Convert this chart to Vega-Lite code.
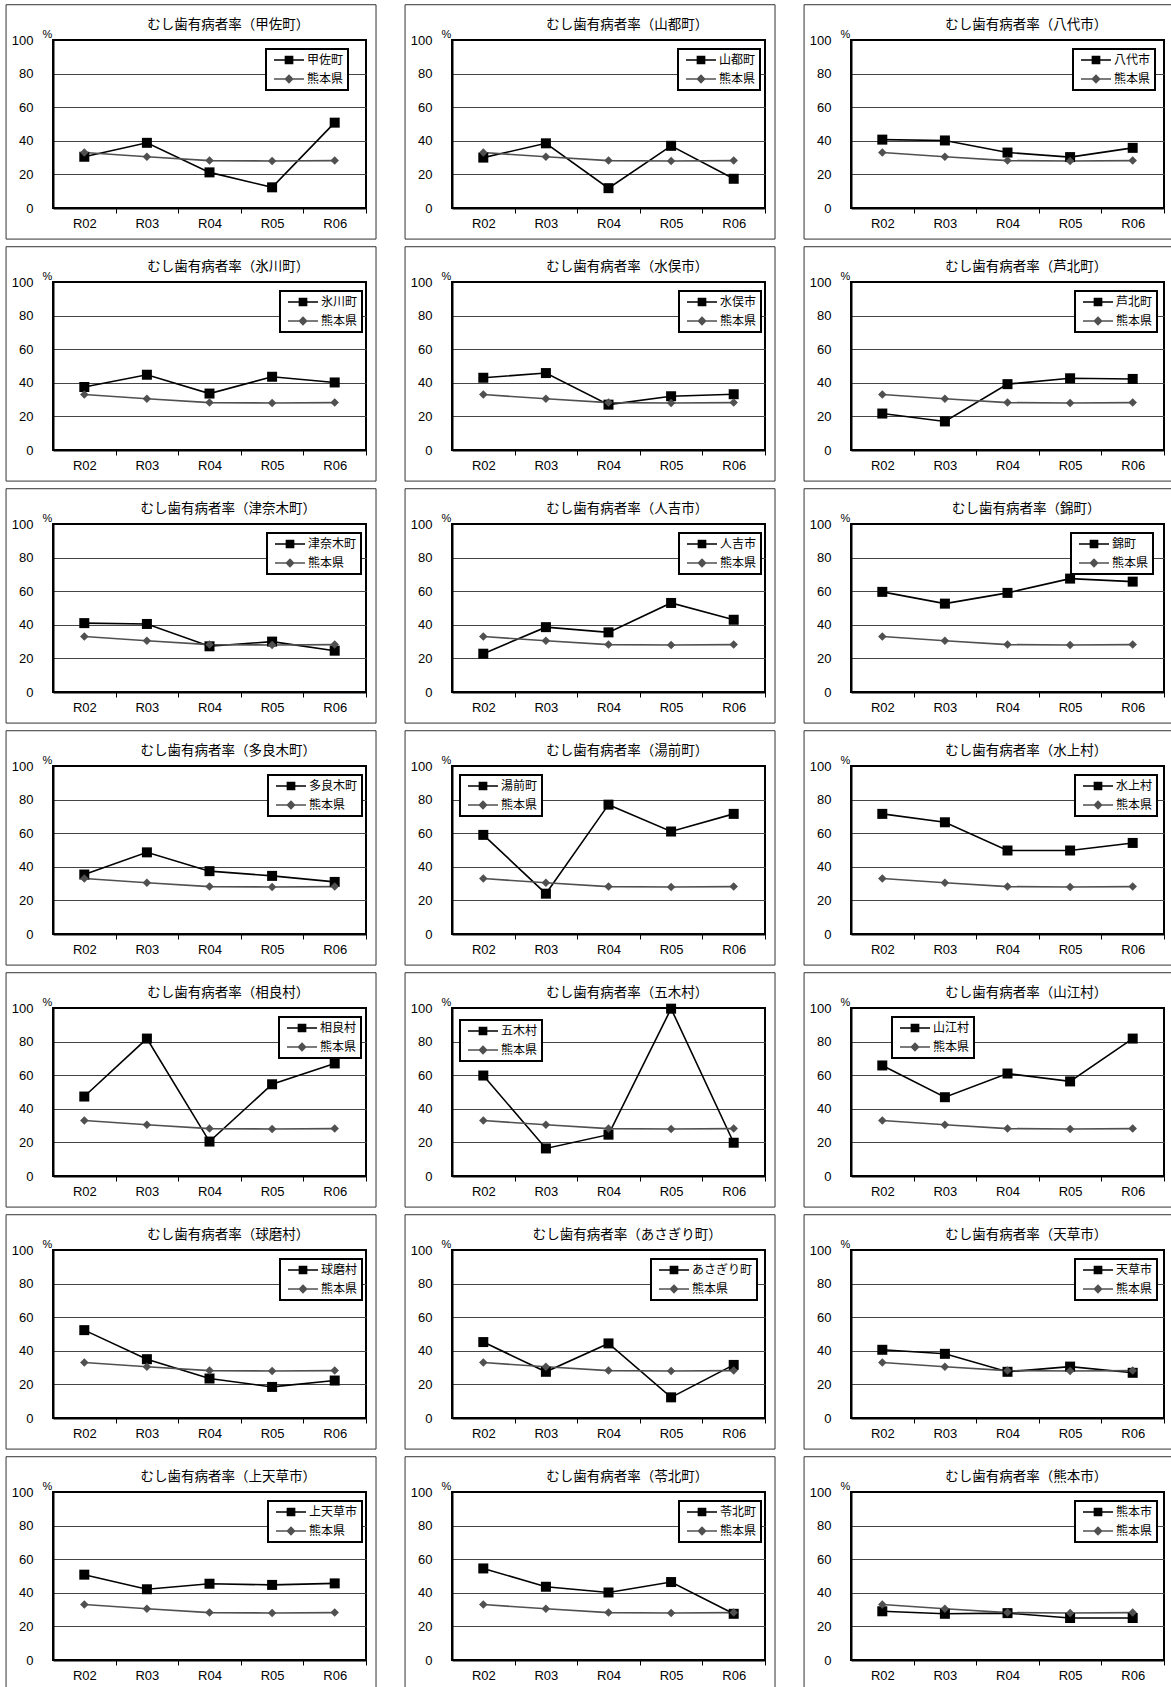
{
"$schema": "https://vega.github.io/schema/vega-lite/v6.json",
"background": "white",
"padding": {"left": 4, "top": 3, "right": 0, "bottom": 0},
"datasets": {"rates": [
{"area":"熊本県","year":2,"rate":33},{"area":"熊本県","year":3,"rate":30.5},{"area":"熊本県","year":4,"rate":28.2},{"area":"熊本県","year":5,"rate":28},{"area":"熊本県","year":6,"rate":28.2},
{"area":"甲佐町","year":2,"rate":30.5},{"area":"甲佐町","year":3,"rate":38.8},{"area":"甲佐町","year":4,"rate":21.2},{"area":"甲佐町","year":5,"rate":12.3},{"area":"甲佐町","year":6,"rate":50.8},
{"area":"山都町","year":2,"rate":30},{"area":"山都町","year":3,"rate":38.5},{"area":"山都町","year":4,"rate":11.8},{"area":"山都町","year":5,"rate":37},{"area":"山都町","year":6,"rate":17.4},
{"area":"八代市","year":2,"rate":40.7},{"area":"八代市","year":3,"rate":40.2},{"area":"八代市","year":4,"rate":33},{"area":"八代市","year":5,"rate":30.3},{"area":"八代市","year":6,"rate":35.8},
{"area":"氷川町","year":2,"rate":37.5},{"area":"氷川町","year":3,"rate":44.8},{"area":"氷川町","year":4,"rate":33.6},{"area":"氷川町","year":5,"rate":43.6},{"area":"氷川町","year":6,"rate":40.2},
{"area":"水俣市","year":2,"rate":43},{"area":"水俣市","year":3,"rate":45.8},{"area":"水俣市","year":4,"rate":27},{"area":"水俣市","year":5,"rate":32},{"area":"水俣市","year":6,"rate":33.2},
{"area":"芦北町","year":2,"rate":21.7},{"area":"芦北町","year":3,"rate":17},{"area":"芦北町","year":4,"rate":39.2},{"area":"芦北町","year":5,"rate":42.7},{"area":"芦北町","year":6,"rate":42.3},
{"area":"津奈木町","year":2,"rate":41},{"area":"津奈木町","year":3,"rate":40.5},{"area":"津奈木町","year":4,"rate":27.2},{"area":"津奈木町","year":5,"rate":30},{"area":"津奈木町","year":6,"rate":24.6},
{"area":"人吉市","year":2,"rate":22.8},{"area":"人吉市","year":3,"rate":38.6},{"area":"人吉市","year":4,"rate":35.5},{"area":"人吉市","year":5,"rate":53},{"area":"人吉市","year":6,"rate":43},
{"area":"錦町","year":2,"rate":59.6},{"area":"錦町","year":3,"rate":52.6},{"area":"錦町","year":4,"rate":59},{"area":"錦町","year":5,"rate":67.5},{"area":"錦町","year":6,"rate":65.7},
{"area":"多良木町","year":2,"rate":35.4},{"area":"多良木町","year":3,"rate":48.6},{"area":"多良木町","year":4,"rate":37.4},{"area":"多良木町","year":5,"rate":34.6},{"area":"多良木町","year":6,"rate":31},
{"area":"湯前町","year":2,"rate":59},{"area":"湯前町","year":3,"rate":24},{"area":"湯前町","year":4,"rate":77},{"area":"湯前町","year":5,"rate":61},{"area":"湯前町","year":6,"rate":71.5},
{"area":"水上村","year":2,"rate":71.5},{"area":"水上村","year":3,"rate":66.5},{"area":"水上村","year":4,"rate":49.7},{"area":"水上村","year":5,"rate":49.7},{"area":"水上村","year":6,"rate":54.2},
{"area":"相良村","year":2,"rate":47.3},{"area":"相良村","year":3,"rate":81.8},{"area":"相良村","year":4,"rate":20.5},{"area":"相良村","year":5,"rate":54.6},{"area":"相良村","year":6,"rate":67},
{"area":"五木村","year":2,"rate":59.8},{"area":"五木村","year":3,"rate":16.4},{"area":"五木村","year":4,"rate":24.6},{"area":"五木村","year":5,"rate":99.6},{"area":"五木村","year":6,"rate":19.8},
{"area":"山江村","year":2,"rate":65.8},{"area":"山江村","year":3,"rate":46.9},{"area":"山江村","year":4,"rate":61},{"area":"山江村","year":5,"rate":56.3},{"area":"山江村","year":6,"rate":81.8},
{"area":"球磨村","year":2,"rate":52.3},{"area":"球磨村","year":3,"rate":35},{"area":"球磨村","year":4,"rate":23.5},{"area":"球磨村","year":5,"rate":18.5},{"area":"球磨村","year":6,"rate":22.3},
{"area":"あさぎり町","year":2,"rate":45.2},{"area":"あさぎり町","year":3,"rate":27.5},{"area":"あさぎり町","year":4,"rate":44.4},{"area":"あさぎり町","year":5,"rate":12.3},{"area":"あさぎり町","year":6,"rate":31.6},
{"area":"天草市","year":2,"rate":40.6},{"area":"天草市","year":3,"rate":38.2},{"area":"天草市","year":4,"rate":27.5},{"area":"天草市","year":5,"rate":30.6},{"area":"天草市","year":6,"rate":26.9},
{"area":"上天草市","year":2,"rate":50.8},{"area":"上天草市","year":3,"rate":42.1},{"area":"上天草市","year":4,"rate":45.4},{"area":"上天草市","year":5,"rate":44.7},{"area":"上天草市","year":6,"rate":45.6},
{"area":"苓北町","year":2,"rate":54.5},{"area":"苓北町","year":3,"rate":43.6},{"area":"苓北町","year":4,"rate":40.2},{"area":"苓北町","year":5,"rate":46.4},{"area":"苓北町","year":6,"rate":27.5},
{"area":"熊本市","year":2,"rate":29},{"area":"熊本市","year":3,"rate":27.5},{"area":"熊本市","year":4,"rate":27.9},{"area":"熊本市","year":5,"rate":25},{"area":"熊本市","year":6,"rate":25}
]},
"columns": 3,
"spacing": {"row": 4, "column": 25},
"resolve": {"scale": {"fill": "independent", "stroke": "independent", "shape": "independent"}, "legend": {"fill": "independent", "stroke": "independent", "shape": "independent"}},
"concat": [
{"width":313,"height":168,"layer":[
{"data":{"values":[{"label":"むし歯有病者率（甲佐町）"}]},"mark":{"type":"rect","filled":false,"stroke":"#333333","strokeWidth":1},"encoding":{"x":{"datum":0.75,"type":"quantitative","scale":{"domain":[1.5,6.5]},"axis":{"values":[2.5,3.5,4.5,5.5,6.5],"labelExpr":"'R0' + (datum.value - 0.5)","title":null}},"x2":{"datum":6.66},"y":{"datum":-18.5,"type":"quantitative","scale":{"domain":[0,100]},"axis":{"values":[0,20,40,60,80,100],"title":"%","gridColor":{"condition":{"test":"datum.value==0||datum.value==100","value":"transparent"},"value":"#444444"}}},"y2":{"datum":121}}},
{"data":{"values":[{"label":"むし歯有病者率（甲佐町）"}]},"mark":{"type":"text","font":"Noto Sans CJK JP","fontSize":13.5,"color":"#000000","baseline":"middle"},"encoding":{"x":{"datum":4.3,"type":"quantitative","scale":{"domain":[1.5,6.5]},"axis":{"values":[2.5,3.5,4.5,5.5,6.5],"labelExpr":"'R0' + (datum.value - 0.5)","title":null}},"y":{"datum":109,"type":"quantitative","scale":{"domain":[0,100]},"axis":{"values":[0,20,40,60,80,100],"title":"%","gridColor":{"condition":{"test":"datum.value==0||datum.value==100","value":"transparent"},"value":"#444444"}}},"text":{"field":"label"}}},
{"data":{"name":"rates"},"transform":[{"filter":"datum.area=='甲佐町'"}],"mark":{"type":"line","color":"#000000","strokeWidth":1.6},"encoding":{"x":{"field":"year","type":"quantitative","scale":{"domain":[1.5,6.5]},"axis":{"values":[2.5,3.5,4.5,5.5,6.5],"labelExpr":"'R0' + (datum.value - 0.5)","title":null}},"y":{"field":"rate","type":"quantitative","scale":{"domain":[0,100]},"axis":{"values":[0,20,40,60,80,100],"title":"%","gridColor":{"condition":{"test":"datum.value==0||datum.value==100","value":"transparent"},"value":"#444444"}}}}},
{"data":{"name":"rates"},"transform":[{"filter":"datum.area=='熊本県'"}],"mark":{"type":"line","color":"#505050","strokeWidth":1.6},"encoding":{"x":{"field":"year","type":"quantitative","scale":{"domain":[1.5,6.5]},"axis":{"values":[2.5,3.5,4.5,5.5,6.5],"labelExpr":"'R0' + (datum.value - 0.5)","title":null}},"y":{"field":"rate","type":"quantitative","scale":{"domain":[0,100]},"axis":{"values":[0,20,40,60,80,100],"title":"%","gridColor":{"condition":{"test":"datum.value==0||datum.value==100","value":"transparent"},"value":"#444444"}}}}},
{"data":{"name":"rates"},"transform":[{"filter":"datum.area=='甲佐町'"}],"mark":{"type":"point","filled":true,"opacity":1,"size":100,"shape":"square","color":"#000000"},"encoding":{"x":{"field":"year","type":"quantitative","scale":{"domain":[1.5,6.5]},"axis":{"values":[2.5,3.5,4.5,5.5,6.5],"labelExpr":"'R0' + (datum.value - 0.5)","title":null}},"y":{"field":"rate","type":"quantitative","scale":{"domain":[0,100]},"axis":{"values":[0,20,40,60,80,100],"title":"%","gridColor":{"condition":{"test":"datum.value==0||datum.value==100","value":"transparent"},"value":"#444444"}}}}},
{"data":{"name":"rates"},"transform":[{"filter":"datum.area=='熊本県'"}],"mark":{"type":"point","filled":true,"opacity":1,"size":100,"shape":"M0,-0.85L0.85,0L0,0.85L-0.85,0Z","color":"#505050"},"encoding":{"x":{"field":"year","type":"quantitative","scale":{"domain":[1.5,6.5]},"axis":{"values":[2.5,3.5,4.5,5.5,6.5],"labelExpr":"'R0' + (datum.value - 0.5)","title":null}},"y":{"field":"rate","type":"quantitative","scale":{"domain":[0,100]},"axis":{"values":[0,20,40,60,80,100],"title":"%","gridColor":{"condition":{"test":"datum.value==0||datum.value==100","value":"transparent"},"value":"#444444"}}}}},
{"data":{"name":"rates"},"transform":[{"filter":"false"}],"mark":{"type":"point","filled":true,"opacity":1},"encoding":{"x":{"field":"year","type":"quantitative","scale":{"domain":[1.5,6.5]},"axis":{"values":[2.5,3.5,4.5,5.5,6.5],"labelExpr":"'R0' + (datum.value - 0.5)","title":null}},"y":{"field":"rate","type":"quantitative","scale":{"domain":[0,100]},"axis":{"values":[0,20,40,60,80,100],"title":"%","gridColor":{"condition":{"test":"datum.value==0||datum.value==100","value":"transparent"},"value":"#444444"}}},"fill":{"field":"area","type":"nominal","scale":{"domain":["甲佐町","熊本県"],"range":["#000000","#505050"]},"legend":{"title":null,"orient":"none","legendX":213,"legendY":9}},"stroke":{"field":"area","type":"nominal","scale":{"domain":["甲佐町","熊本県"],"range":["#000000","#505050"]},"legend":{"title":null,"orient":"none","legendX":213,"legendY":9}},"shape":{"field":"area","type":"nominal","scale":{"domain":["甲佐町","熊本県"],"range":["M-2.5,0H2.5M-0.6,-0.6H0.6V0.6H-0.6Z","M-2.5,0H2.5M0,-0.6L0.6,0L0,0.6L-0.6,0Z"]},"legend":{"title":null,"orient":"none","legendX":213,"legendY":9}}}}
]},
{"width":313,"height":168,"layer":[
{"data":{"values":[{"label":"むし歯有病者率（山都町）"}]},"mark":{"type":"rect","filled":false,"stroke":"#333333","strokeWidth":1},"encoding":{"x":{"datum":0.75,"type":"quantitative","scale":{"domain":[1.5,6.5]},"axis":{"values":[2.5,3.5,4.5,5.5,6.5],"labelExpr":"'R0' + (datum.value - 0.5)","title":null}},"x2":{"datum":6.66},"y":{"datum":-18.5,"type":"quantitative","scale":{"domain":[0,100]},"axis":{"values":[0,20,40,60,80,100],"title":"%","gridColor":{"condition":{"test":"datum.value==0||datum.value==100","value":"transparent"},"value":"#444444"}}},"y2":{"datum":121}}},
{"data":{"values":[{"label":"むし歯有病者率（山都町）"}]},"mark":{"type":"text","font":"Noto Sans CJK JP","fontSize":13.5,"color":"#000000","baseline":"middle"},"encoding":{"x":{"datum":4.3,"type":"quantitative","scale":{"domain":[1.5,6.5]},"axis":{"values":[2.5,3.5,4.5,5.5,6.5],"labelExpr":"'R0' + (datum.value - 0.5)","title":null}},"y":{"datum":109,"type":"quantitative","scale":{"domain":[0,100]},"axis":{"values":[0,20,40,60,80,100],"title":"%","gridColor":{"condition":{"test":"datum.value==0||datum.value==100","value":"transparent"},"value":"#444444"}}},"text":{"field":"label"}}},
{"data":{"name":"rates"},"transform":[{"filter":"datum.area=='山都町'"}],"mark":{"type":"line","color":"#000000","strokeWidth":1.6},"encoding":{"x":{"field":"year","type":"quantitative","scale":{"domain":[1.5,6.5]},"axis":{"values":[2.5,3.5,4.5,5.5,6.5],"labelExpr":"'R0' + (datum.value - 0.5)","title":null}},"y":{"field":"rate","type":"quantitative","scale":{"domain":[0,100]},"axis":{"values":[0,20,40,60,80,100],"title":"%","gridColor":{"condition":{"test":"datum.value==0||datum.value==100","value":"transparent"},"value":"#444444"}}}}},
{"data":{"name":"rates"},"transform":[{"filter":"datum.area=='熊本県'"}],"mark":{"type":"line","color":"#505050","strokeWidth":1.6},"encoding":{"x":{"field":"year","type":"quantitative","scale":{"domain":[1.5,6.5]},"axis":{"values":[2.5,3.5,4.5,5.5,6.5],"labelExpr":"'R0' + (datum.value - 0.5)","title":null}},"y":{"field":"rate","type":"quantitative","scale":{"domain":[0,100]},"axis":{"values":[0,20,40,60,80,100],"title":"%","gridColor":{"condition":{"test":"datum.value==0||datum.value==100","value":"transparent"},"value":"#444444"}}}}},
{"data":{"name":"rates"},"transform":[{"filter":"datum.area=='山都町'"}],"mark":{"type":"point","filled":true,"opacity":1,"size":100,"shape":"square","color":"#000000"},"encoding":{"x":{"field":"year","type":"quantitative","scale":{"domain":[1.5,6.5]},"axis":{"values":[2.5,3.5,4.5,5.5,6.5],"labelExpr":"'R0' + (datum.value - 0.5)","title":null}},"y":{"field":"rate","type":"quantitative","scale":{"domain":[0,100]},"axis":{"values":[0,20,40,60,80,100],"title":"%","gridColor":{"condition":{"test":"datum.value==0||datum.value==100","value":"transparent"},"value":"#444444"}}}}},
{"data":{"name":"rates"},"transform":[{"filter":"datum.area=='熊本県'"}],"mark":{"type":"point","filled":true,"opacity":1,"size":100,"shape":"M0,-0.85L0.85,0L0,0.85L-0.85,0Z","color":"#505050"},"encoding":{"x":{"field":"year","type":"quantitative","scale":{"domain":[1.5,6.5]},"axis":{"values":[2.5,3.5,4.5,5.5,6.5],"labelExpr":"'R0' + (datum.value - 0.5)","title":null}},"y":{"field":"rate","type":"quantitative","scale":{"domain":[0,100]},"axis":{"values":[0,20,40,60,80,100],"title":"%","gridColor":{"condition":{"test":"datum.value==0||datum.value==100","value":"transparent"},"value":"#444444"}}}}},
{"data":{"name":"rates"},"transform":[{"filter":"false"}],"mark":{"type":"point","filled":true,"opacity":1},"encoding":{"x":{"field":"year","type":"quantitative","scale":{"domain":[1.5,6.5]},"axis":{"values":[2.5,3.5,4.5,5.5,6.5],"labelExpr":"'R0' + (datum.value - 0.5)","title":null}},"y":{"field":"rate","type":"quantitative","scale":{"domain":[0,100]},"axis":{"values":[0,20,40,60,80,100],"title":"%","gridColor":{"condition":{"test":"datum.value==0||datum.value==100","value":"transparent"},"value":"#444444"}}},"fill":{"field":"area","type":"nominal","scale":{"domain":["山都町","熊本県"],"range":["#000000","#505050"]},"legend":{"title":null,"orient":"none","legendX":226,"legendY":9}},"stroke":{"field":"area","type":"nominal","scale":{"domain":["山都町","熊本県"],"range":["#000000","#505050"]},"legend":{"title":null,"orient":"none","legendX":226,"legendY":9}},"shape":{"field":"area","type":"nominal","scale":{"domain":["山都町","熊本県"],"range":["M-2.5,0H2.5M-0.6,-0.6H0.6V0.6H-0.6Z","M-2.5,0H2.5M0,-0.6L0.6,0L0,0.6L-0.6,0Z"]},"legend":{"title":null,"orient":"none","legendX":226,"legendY":9}}}}
]},
{"width":313,"height":168,"layer":[
{"data":{"values":[{"label":"むし歯有病者率（八代市）"}]},"mark":{"type":"rect","filled":false,"stroke":"#333333","strokeWidth":1},"encoding":{"x":{"datum":0.75,"type":"quantitative","scale":{"domain":[1.5,6.5]},"axis":{"values":[2.5,3.5,4.5,5.5,6.5],"labelExpr":"'R0' + (datum.value - 0.5)","title":null}},"x2":{"datum":6.66},"y":{"datum":-18.5,"type":"quantitative","scale":{"domain":[0,100]},"axis":{"values":[0,20,40,60,80,100],"title":"%","gridColor":{"condition":{"test":"datum.value==0||datum.value==100","value":"transparent"},"value":"#444444"}}},"y2":{"datum":121}}},
{"data":{"values":[{"label":"むし歯有病者率（八代市）"}]},"mark":{"type":"text","font":"Noto Sans CJK JP","fontSize":13.5,"color":"#000000","baseline":"middle"},"encoding":{"x":{"datum":4.3,"type":"quantitative","scale":{"domain":[1.5,6.5]},"axis":{"values":[2.5,3.5,4.5,5.5,6.5],"labelExpr":"'R0' + (datum.value - 0.5)","title":null}},"y":{"datum":109,"type":"quantitative","scale":{"domain":[0,100]},"axis":{"values":[0,20,40,60,80,100],"title":"%","gridColor":{"condition":{"test":"datum.value==0||datum.value==100","value":"transparent"},"value":"#444444"}}},"text":{"field":"label"}}},
{"data":{"name":"rates"},"transform":[{"filter":"datum.area=='八代市'"}],"mark":{"type":"line","color":"#000000","strokeWidth":1.6},"encoding":{"x":{"field":"year","type":"quantitative","scale":{"domain":[1.5,6.5]},"axis":{"values":[2.5,3.5,4.5,5.5,6.5],"labelExpr":"'R0' + (datum.value - 0.5)","title":null}},"y":{"field":"rate","type":"quantitative","scale":{"domain":[0,100]},"axis":{"values":[0,20,40,60,80,100],"title":"%","gridColor":{"condition":{"test":"datum.value==0||datum.value==100","value":"transparent"},"value":"#444444"}}}}},
{"data":{"name":"rates"},"transform":[{"filter":"datum.area=='熊本県'"}],"mark":{"type":"line","color":"#505050","strokeWidth":1.6},"encoding":{"x":{"field":"year","type":"quantitative","scale":{"domain":[1.5,6.5]},"axis":{"values":[2.5,3.5,4.5,5.5,6.5],"labelExpr":"'R0' + (datum.value - 0.5)","title":null}},"y":{"field":"rate","type":"quantitative","scale":{"domain":[0,100]},"axis":{"values":[0,20,40,60,80,100],"title":"%","gridColor":{"condition":{"test":"datum.value==0||datum.value==100","value":"transparent"},"value":"#444444"}}}}},
{"data":{"name":"rates"},"transform":[{"filter":"datum.area=='八代市'"}],"mark":{"type":"point","filled":true,"opacity":1,"size":100,"shape":"square","color":"#000000"},"encoding":{"x":{"field":"year","type":"quantitative","scale":{"domain":[1.5,6.5]},"axis":{"values":[2.5,3.5,4.5,5.5,6.5],"labelExpr":"'R0' + (datum.value - 0.5)","title":null}},"y":{"field":"rate","type":"quantitative","scale":{"domain":[0,100]},"axis":{"values":[0,20,40,60,80,100],"title":"%","gridColor":{"condition":{"test":"datum.value==0||datum.value==100","value":"transparent"},"value":"#444444"}}}}},
{"data":{"name":"rates"},"transform":[{"filter":"datum.area=='熊本県'"}],"mark":{"type":"point","filled":true,"opacity":1,"size":100,"shape":"M0,-0.85L0.85,0L0,0.85L-0.85,0Z","color":"#505050"},"encoding":{"x":{"field":"year","type":"quantitative","scale":{"domain":[1.5,6.5]},"axis":{"values":[2.5,3.5,4.5,5.5,6.5],"labelExpr":"'R0' + (datum.value - 0.5)","title":null}},"y":{"field":"rate","type":"quantitative","scale":{"domain":[0,100]},"axis":{"values":[0,20,40,60,80,100],"title":"%","gridColor":{"condition":{"test":"datum.value==0||datum.value==100","value":"transparent"},"value":"#444444"}}}}},
{"data":{"name":"rates"},"transform":[{"filter":"false"}],"mark":{"type":"point","filled":true,"opacity":1},"encoding":{"x":{"field":"year","type":"quantitative","scale":{"domain":[1.5,6.5]},"axis":{"values":[2.5,3.5,4.5,5.5,6.5],"labelExpr":"'R0' + (datum.value - 0.5)","title":null}},"y":{"field":"rate","type":"quantitative","scale":{"domain":[0,100]},"axis":{"values":[0,20,40,60,80,100],"title":"%","gridColor":{"condition":{"test":"datum.value==0||datum.value==100","value":"transparent"},"value":"#444444"}}},"fill":{"field":"area","type":"nominal","scale":{"domain":["八代市","熊本県"],"range":["#000000","#505050"]},"legend":{"title":null,"orient":"none","legendX":222,"legendY":9}},"stroke":{"field":"area","type":"nominal","scale":{"domain":["八代市","熊本県"],"range":["#000000","#505050"]},"legend":{"title":null,"orient":"none","legendX":222,"legendY":9}},"shape":{"field":"area","type":"nominal","scale":{"domain":["八代市","熊本県"],"range":["M-2.5,0H2.5M-0.6,-0.6H0.6V0.6H-0.6Z","M-2.5,0H2.5M0,-0.6L0.6,0L0,0.6L-0.6,0Z"]},"legend":{"title":null,"orient":"none","legendX":222,"legendY":9}}}}
]},
{"width":313,"height":168,"layer":[
{"data":{"values":[{"label":"むし歯有病者率（氷川町）"}]},"mark":{"type":"rect","filled":false,"stroke":"#333333","strokeWidth":1},"encoding":{"x":{"datum":0.75,"type":"quantitative","scale":{"domain":[1.5,6.5]},"axis":{"values":[2.5,3.5,4.5,5.5,6.5],"labelExpr":"'R0' + (datum.value - 0.5)","title":null}},"x2":{"datum":6.66},"y":{"datum":-18.5,"type":"quantitative","scale":{"domain":[0,100]},"axis":{"values":[0,20,40,60,80,100],"title":"%","gridColor":{"condition":{"test":"datum.value==0||datum.value==100","value":"transparent"},"value":"#444444"}}},"y2":{"datum":121}}},
{"data":{"values":[{"label":"むし歯有病者率（氷川町）"}]},"mark":{"type":"text","font":"Noto Sans CJK JP","fontSize":13.5,"color":"#000000","baseline":"middle"},"encoding":{"x":{"datum":4.3,"type":"quantitative","scale":{"domain":[1.5,6.5]},"axis":{"values":[2.5,3.5,4.5,5.5,6.5],"labelExpr":"'R0' + (datum.value - 0.5)","title":null}},"y":{"datum":109,"type":"quantitative","scale":{"domain":[0,100]},"axis":{"values":[0,20,40,60,80,100],"title":"%","gridColor":{"condition":{"test":"datum.value==0||datum.value==100","value":"transparent"},"value":"#444444"}}},"text":{"field":"label"}}},
{"data":{"name":"rates"},"transform":[{"filter":"datum.area=='氷川町'"}],"mark":{"type":"line","color":"#000000","strokeWidth":1.6},"encoding":{"x":{"field":"year","type":"quantitative","scale":{"domain":[1.5,6.5]},"axis":{"values":[2.5,3.5,4.5,5.5,6.5],"labelExpr":"'R0' + (datum.value - 0.5)","title":null}},"y":{"field":"rate","type":"quantitative","scale":{"domain":[0,100]},"axis":{"values":[0,20,40,60,80,100],"title":"%","gridColor":{"condition":{"test":"datum.value==0||datum.value==100","value":"transparent"},"value":"#444444"}}}}},
{"data":{"name":"rates"},"transform":[{"filter":"datum.area=='熊本県'"}],"mark":{"type":"line","color":"#505050","strokeWidth":1.6},"encoding":{"x":{"field":"year","type":"quantitative","scale":{"domain":[1.5,6.5]},"axis":{"values":[2.5,3.5,4.5,5.5,6.5],"labelExpr":"'R0' + (datum.value - 0.5)","title":null}},"y":{"field":"rate","type":"quantitative","scale":{"domain":[0,100]},"axis":{"values":[0,20,40,60,80,100],"title":"%","gridColor":{"condition":{"test":"datum.value==0||datum.value==100","value":"transparent"},"value":"#444444"}}}}},
{"data":{"name":"rates"},"transform":[{"filter":"datum.area=='氷川町'"}],"mark":{"type":"point","filled":true,"opacity":1,"size":100,"shape":"square","color":"#000000"},"encoding":{"x":{"field":"year","type":"quantitative","scale":{"domain":[1.5,6.5]},"axis":{"values":[2.5,3.5,4.5,5.5,6.5],"labelExpr":"'R0' + (datum.value - 0.5)","title":null}},"y":{"field":"rate","type":"quantitative","scale":{"domain":[0,100]},"axis":{"values":[0,20,40,60,80,100],"title":"%","gridColor":{"condition":{"test":"datum.value==0||datum.value==100","value":"transparent"},"value":"#444444"}}}}},
{"data":{"name":"rates"},"transform":[{"filter":"datum.area=='熊本県'"}],"mark":{"type":"point","filled":true,"opacity":1,"size":100,"shape":"M0,-0.85L0.85,0L0,0.85L-0.85,0Z","color":"#505050"},"encoding":{"x":{"field":"year","type":"quantitative","scale":{"domain":[1.5,6.5]},"axis":{"values":[2.5,3.5,4.5,5.5,6.5],"labelExpr":"'R0' + (datum.value - 0.5)","title":null}},"y":{"field":"rate","type":"quantitative","scale":{"domain":[0,100]},"axis":{"values":[0,20,40,60,80,100],"title":"%","gridColor":{"condition":{"test":"datum.value==0||datum.value==100","value":"transparent"},"value":"#444444"}}}}},
{"data":{"name":"rates"},"transform":[{"filter":"false"}],"mark":{"type":"point","filled":true,"opacity":1},"encoding":{"x":{"field":"year","type":"quantitative","scale":{"domain":[1.5,6.5]},"axis":{"values":[2.5,3.5,4.5,5.5,6.5],"labelExpr":"'R0' + (datum.value - 0.5)","title":null}},"y":{"field":"rate","type":"quantitative","scale":{"domain":[0,100]},"axis":{"values":[0,20,40,60,80,100],"title":"%","gridColor":{"condition":{"test":"datum.value==0||datum.value==100","value":"transparent"},"value":"#444444"}}},"fill":{"field":"area","type":"nominal","scale":{"domain":["氷川町","熊本県"],"range":["#000000","#505050"]},"legend":{"title":null,"orient":"none","legendX":227,"legendY":9}},"stroke":{"field":"area","type":"nominal","scale":{"domain":["氷川町","熊本県"],"range":["#000000","#505050"]},"legend":{"title":null,"orient":"none","legendX":227,"legendY":9}},"shape":{"field":"area","type":"nominal","scale":{"domain":["氷川町","熊本県"],"range":["M-2.5,0H2.5M-0.6,-0.6H0.6V0.6H-0.6Z","M-2.5,0H2.5M0,-0.6L0.6,0L0,0.6L-0.6,0Z"]},"legend":{"title":null,"orient":"none","legendX":227,"legendY":9}}}}
]},
{"width":313,"height":168,"layer":[
{"data":{"values":[{"label":"むし歯有病者率（水俣市）"}]},"mark":{"type":"rect","filled":false,"stroke":"#333333","strokeWidth":1},"encoding":{"x":{"datum":0.75,"type":"quantitative","scale":{"domain":[1.5,6.5]},"axis":{"values":[2.5,3.5,4.5,5.5,6.5],"labelExpr":"'R0' + (datum.value - 0.5)","title":null}},"x2":{"datum":6.66},"y":{"datum":-18.5,"type":"quantitative","scale":{"domain":[0,100]},"axis":{"values":[0,20,40,60,80,100],"title":"%","gridColor":{"condition":{"test":"datum.value==0||datum.value==100","value":"transparent"},"value":"#444444"}}},"y2":{"datum":121}}},
{"data":{"values":[{"label":"むし歯有病者率（水俣市）"}]},"mark":{"type":"text","font":"Noto Sans CJK JP","fontSize":13.5,"color":"#000000","baseline":"middle"},"encoding":{"x":{"datum":4.3,"type":"quantitative","scale":{"domain":[1.5,6.5]},"axis":{"values":[2.5,3.5,4.5,5.5,6.5],"labelExpr":"'R0' + (datum.value - 0.5)","title":null}},"y":{"datum":109,"type":"quantitative","scale":{"domain":[0,100]},"axis":{"values":[0,20,40,60,80,100],"title":"%","gridColor":{"condition":{"test":"datum.value==0||datum.value==100","value":"transparent"},"value":"#444444"}}},"text":{"field":"label"}}},
{"data":{"name":"rates"},"transform":[{"filter":"datum.area=='水俣市'"}],"mark":{"type":"line","color":"#000000","strokeWidth":1.6},"encoding":{"x":{"field":"year","type":"quantitative","scale":{"domain":[1.5,6.5]},"axis":{"values":[2.5,3.5,4.5,5.5,6.5],"labelExpr":"'R0' + (datum.value - 0.5)","title":null}},"y":{"field":"rate","type":"quantitative","scale":{"domain":[0,100]},"axis":{"values":[0,20,40,60,80,100],"title":"%","gridColor":{"condition":{"test":"datum.value==0||datum.value==100","value":"transparent"},"value":"#444444"}}}}},
{"data":{"name":"rates"},"transform":[{"filter":"datum.area=='熊本県'"}],"mark":{"type":"line","color":"#505050","strokeWidth":1.6},"encoding":{"x":{"field":"year","type":"quantitative","scale":{"domain":[1.5,6.5]},"axis":{"values":[2.5,3.5,4.5,5.5,6.5],"labelExpr":"'R0' + (datum.value - 0.5)","title":null}},"y":{"field":"rate","type":"quantitative","scale":{"domain":[0,100]},"axis":{"values":[0,20,40,60,80,100],"title":"%","gridColor":{"condition":{"test":"datum.value==0||datum.value==100","value":"transparent"},"value":"#444444"}}}}},
{"data":{"name":"rates"},"transform":[{"filter":"datum.area=='水俣市'"}],"mark":{"type":"point","filled":true,"opacity":1,"size":100,"shape":"square","color":"#000000"},"encoding":{"x":{"field":"year","type":"quantitative","scale":{"domain":[1.5,6.5]},"axis":{"values":[2.5,3.5,4.5,5.5,6.5],"labelExpr":"'R0' + (datum.value - 0.5)","title":null}},"y":{"field":"rate","type":"quantitative","scale":{"domain":[0,100]},"axis":{"values":[0,20,40,60,80,100],"title":"%","gridColor":{"condition":{"test":"datum.value==0||datum.value==100","value":"transparent"},"value":"#444444"}}}}},
{"data":{"name":"rates"},"transform":[{"filter":"datum.area=='熊本県'"}],"mark":{"type":"point","filled":true,"opacity":1,"size":100,"shape":"M0,-0.85L0.85,0L0,0.85L-0.85,0Z","color":"#505050"},"encoding":{"x":{"field":"year","type":"quantitative","scale":{"domain":[1.5,6.5]},"axis":{"values":[2.5,3.5,4.5,5.5,6.5],"labelExpr":"'R0' + (datum.value - 0.5)","title":null}},"y":{"field":"rate","type":"quantitative","scale":{"domain":[0,100]},"axis":{"values":[0,20,40,60,80,100],"title":"%","gridColor":{"condition":{"test":"datum.value==0||datum.value==100","value":"transparent"},"value":"#444444"}}}}},
{"data":{"name":"rates"},"transform":[{"filter":"false"}],"mark":{"type":"point","filled":true,"opacity":1},"encoding":{"x":{"field":"year","type":"quantitative","scale":{"domain":[1.5,6.5]},"axis":{"values":[2.5,3.5,4.5,5.5,6.5],"labelExpr":"'R0' + (datum.value - 0.5)","title":null}},"y":{"field":"rate","type":"quantitative","scale":{"domain":[0,100]},"axis":{"values":[0,20,40,60,80,100],"title":"%","gridColor":{"condition":{"test":"datum.value==0||datum.value==100","value":"transparent"},"value":"#444444"}}},"fill":{"field":"area","type":"nominal","scale":{"domain":["水俣市","熊本県"],"range":["#000000","#505050"]},"legend":{"title":null,"orient":"none","legendX":227,"legendY":9}},"stroke":{"field":"area","type":"nominal","scale":{"domain":["水俣市","熊本県"],"range":["#000000","#505050"]},"legend":{"title":null,"orient":"none","legendX":227,"legendY":9}},"shape":{"field":"area","type":"nominal","scale":{"domain":["水俣市","熊本県"],"range":["M-2.5,0H2.5M-0.6,-0.6H0.6V0.6H-0.6Z","M-2.5,0H2.5M0,-0.6L0.6,0L0,0.6L-0.6,0Z"]},"legend":{"title":null,"orient":"none","legendX":227,"legendY":9}}}}
]},
{"width":313,"height":168,"layer":[
{"data":{"values":[{"label":"むし歯有病者率（芦北町）"}]},"mark":{"type":"rect","filled":false,"stroke":"#333333","strokeWidth":1},"encoding":{"x":{"datum":0.75,"type":"quantitative","scale":{"domain":[1.5,6.5]},"axis":{"values":[2.5,3.5,4.5,5.5,6.5],"labelExpr":"'R0' + (datum.value - 0.5)","title":null}},"x2":{"datum":6.66},"y":{"datum":-18.5,"type":"quantitative","scale":{"domain":[0,100]},"axis":{"values":[0,20,40,60,80,100],"title":"%","gridColor":{"condition":{"test":"datum.value==0||datum.value==100","value":"transparent"},"value":"#444444"}}},"y2":{"datum":121}}},
{"data":{"values":[{"label":"むし歯有病者率（芦北町）"}]},"mark":{"type":"text","font":"Noto Sans CJK JP","fontSize":13.5,"color":"#000000","baseline":"middle"},"encoding":{"x":{"datum":4.3,"type":"quantitative","scale":{"domain":[1.5,6.5]},"axis":{"values":[2.5,3.5,4.5,5.5,6.5],"labelExpr":"'R0' + (datum.value - 0.5)","title":null}},"y":{"datum":109,"type":"quantitative","scale":{"domain":[0,100]},"axis":{"values":[0,20,40,60,80,100],"title":"%","gridColor":{"condition":{"test":"datum.value==0||datum.value==100","value":"transparent"},"value":"#444444"}}},"text":{"field":"label"}}},
{"data":{"name":"rates"},"transform":[{"filter":"datum.area=='芦北町'"}],"mark":{"type":"line","color":"#000000","strokeWidth":1.6},"encoding":{"x":{"field":"year","type":"quantitative","scale":{"domain":[1.5,6.5]},"axis":{"values":[2.5,3.5,4.5,5.5,6.5],"labelExpr":"'R0' + (datum.value - 0.5)","title":null}},"y":{"field":"rate","type":"quantitative","scale":{"domain":[0,100]},"axis":{"values":[0,20,40,60,80,100],"title":"%","gridColor":{"condition":{"test":"datum.value==0||datum.value==100","value":"transparent"},"value":"#444444"}}}}},
{"data":{"name":"rates"},"transform":[{"filter":"datum.area=='熊本県'"}],"mark":{"type":"line","color":"#505050","strokeWidth":1.6},"encoding":{"x":{"field":"year","type":"quantitative","scale":{"domain":[1.5,6.5]},"axis":{"values":[2.5,3.5,4.5,5.5,6.5],"labelExpr":"'R0' + (datum.value - 0.5)","title":null}},"y":{"field":"rate","type":"quantitative","scale":{"domain":[0,100]},"axis":{"values":[0,20,40,60,80,100],"title":"%","gridColor":{"condition":{"test":"datum.value==0||datum.value==100","value":"transparent"},"value":"#444444"}}}}},
{"data":{"name":"rates"},"transform":[{"filter":"datum.area=='芦北町'"}],"mark":{"type":"point","filled":true,"opacity":1,"size":100,"shape":"square","color":"#000000"},"encoding":{"x":{"field":"year","type":"quantitative","scale":{"domain":[1.5,6.5]},"axis":{"values":[2.5,3.5,4.5,5.5,6.5],"labelExpr":"'R0' + (datum.value - 0.5)","title":null}},"y":{"field":"rate","type":"quantitative","scale":{"domain":[0,100]},"axis":{"values":[0,20,40,60,80,100],"title":"%","gridColor":{"condition":{"test":"datum.value==0||datum.value==100","value":"transparent"},"value":"#444444"}}}}},
{"data":{"name":"rates"},"transform":[{"filter":"datum.area=='熊本県'"}],"mark":{"type":"point","filled":true,"opacity":1,"size":100,"shape":"M0,-0.85L0.85,0L0,0.85L-0.85,0Z","color":"#505050"},"encoding":{"x":{"field":"year","type":"quantitative","scale":{"domain":[1.5,6.5]},"axis":{"values":[2.5,3.5,4.5,5.5,6.5],"labelExpr":"'R0' + (datum.value - 0.5)","title":null}},"y":{"field":"rate","type":"quantitative","scale":{"domain":[0,100]},"axis":{"values":[0,20,40,60,80,100],"title":"%","gridColor":{"condition":{"test":"datum.value==0||datum.value==100","value":"transparent"},"value":"#444444"}}}}},
{"data":{"name":"rates"},"transform":[{"filter":"false"}],"mark":{"type":"point","filled":true,"opacity":1},"encoding":{"x":{"field":"year","type":"quantitative","scale":{"domain":[1.5,6.5]},"axis":{"values":[2.5,3.5,4.5,5.5,6.5],"labelExpr":"'R0' + (datum.value - 0.5)","title":null}},"y":{"field":"rate","type":"quantitative","scale":{"domain":[0,100]},"axis":{"values":[0,20,40,60,80,100],"title":"%","gridColor":{"condition":{"test":"datum.value==0||datum.value==100","value":"transparent"},"value":"#444444"}}},"fill":{"field":"area","type":"nominal","scale":{"domain":["芦北町","熊本県"],"range":["#000000","#505050"]},"legend":{"title":null,"orient":"none","legendX":224,"legendY":9}},"stroke":{"field":"area","type":"nominal","scale":{"domain":["芦北町","熊本県"],"range":["#000000","#505050"]},"legend":{"title":null,"orient":"none","legendX":224,"legendY":9}},"shape":{"field":"area","type":"nominal","scale":{"domain":["芦北町","熊本県"],"range":["M-2.5,0H2.5M-0.6,-0.6H0.6V0.6H-0.6Z","M-2.5,0H2.5M0,-0.6L0.6,0L0,0.6L-0.6,0Z"]},"legend":{"title":null,"orient":"none","legendX":224,"legendY":9}}}}
]},
{"width":313,"height":168,"layer":[
{"data":{"values":[{"label":"むし歯有病者率（津奈木町）"}]},"mark":{"type":"rect","filled":false,"stroke":"#333333","strokeWidth":1},"encoding":{"x":{"datum":0.75,"type":"quantitative","scale":{"domain":[1.5,6.5]},"axis":{"values":[2.5,3.5,4.5,5.5,6.5],"labelExpr":"'R0' + (datum.value - 0.5)","title":null}},"x2":{"datum":6.66},"y":{"datum":-18.5,"type":"quantitative","scale":{"domain":[0,100]},"axis":{"values":[0,20,40,60,80,100],"title":"%","gridColor":{"condition":{"test":"datum.value==0||datum.value==100","value":"transparent"},"value":"#444444"}}},"y2":{"datum":121}}},
{"data":{"values":[{"label":"むし歯有病者率（津奈木町）"}]},"mark":{"type":"text","font":"Noto Sans CJK JP","fontSize":13.5,"color":"#000000","baseline":"middle"},"encoding":{"x":{"datum":4.3,"type":"quantitative","scale":{"domain":[1.5,6.5]},"axis":{"values":[2.5,3.5,4.5,5.5,6.5],"labelExpr":"'R0' + (datum.value - 0.5)","title":null}},"y":{"datum":109,"type":"quantitative","scale":{"domain":[0,100]},"axis":{"values":[0,20,40,60,80,100],"title":"%","gridColor":{"condition":{"test":"datum.value==0||datum.value==100","value":"transparent"},"value":"#444444"}}},"text":{"field":"label"}}},
{"data":{"name":"rates"},"transform":[{"filter":"datum.area=='津奈木町'"}],"mark":{"type":"line","color":"#000000","strokeWidth":1.6},"encoding":{"x":{"field":"year","type":"quantitative","scale":{"domain":[1.5,6.5]},"axis":{"values":[2.5,3.5,4.5,5.5,6.5],"labelExpr":"'R0' + (datum.value - 0.5)","title":null}},"y":{"field":"rate","type":"quantitative","scale":{"domain":[0,100]},"axis":{"values":[0,20,40,60,80,100],"title":"%","gridColor":{"condition":{"test":"datum.value==0||datum.value==100","value":"transparent"},"value":"#444444"}}}}},
{"data":{"name":"rates"},"transform":[{"filter":"datum.area=='熊本県'"}],"mark":{"type":"line","color":"#505050","strokeWidth":1.6},"encoding":{"x":{"field":"year","type":"quantitative","scale":{"domain":[1.5,6.5]},"axis":{"values":[2.5,3.5,4.5,5.5,6.5],"labelExpr":"'R0' + (datum.value - 0.5)","title":null}},"y":{"field":"rate","type":"quantitative","scale":{"domain":[0,100]},"axis":{"values":[0,20,40,60,80,100],"title":"%","gridColor":{"condition":{"test":"datum.value==0||datum.value==100","value":"transparent"},"value":"#444444"}}}}},
{"data":{"name":"rates"},"transform":[{"filter":"datum.area=='津奈木町'"}],"mark":{"type":"point","filled":true,"opacity":1,"size":100,"shape":"square","color":"#000000"},"encoding":{"x":{"field":"year","type":"quantitative","scale":{"domain":[1.5,6.5]},"axis":{"values":[2.5,3.5,4.5,5.5,6.5],"labelExpr":"'R0' + (datum.value - 0.5)","title":null}},"y":{"field":"rate","type":"quantitative","scale":{"domain":[0,100]},"axis":{"values":[0,20,40,60,80,100],"title":"%","gridColor":{"condition":{"test":"datum.value==0||datum.value==100","value":"transparent"},"value":"#444444"}}}}},
{"data":{"name":"rates"},"transform":[{"filter":"datum.area=='熊本県'"}],"mark":{"type":"point","filled":true,"opacity":1,"size":100,"shape":"M0,-0.85L0.85,0L0,0.85L-0.85,0Z","color":"#505050"},"encoding":{"x":{"field":"year","type":"quantitative","scale":{"domain":[1.5,6.5]},"axis":{"values":[2.5,3.5,4.5,5.5,6.5],"labelExpr":"'R0' + (datum.value - 0.5)","title":null}},"y":{"field":"rate","type":"quantitative","scale":{"domain":[0,100]},"axis":{"values":[0,20,40,60,80,100],"title":"%","gridColor":{"condition":{"test":"datum.value==0||datum.value==100","value":"transparent"},"value":"#444444"}}}}},
{"data":{"name":"rates"},"transform":[{"filter":"false"}],"mark":{"type":"point","filled":true,"opacity":1},"encoding":{"x":{"field":"year","type":"quantitative","scale":{"domain":[1.5,6.5]},"axis":{"values":[2.5,3.5,4.5,5.5,6.5],"labelExpr":"'R0' + (datum.value - 0.5)","title":null}},"y":{"field":"rate","type":"quantitative","scale":{"domain":[0,100]},"axis":{"values":[0,20,40,60,80,100],"title":"%","gridColor":{"condition":{"test":"datum.value==0||datum.value==100","value":"transparent"},"value":"#444444"}}},"fill":{"field":"area","type":"nominal","scale":{"domain":["津奈木町","熊本県"],"range":["#000000","#505050"]},"legend":{"title":null,"orient":"none","legendX":214,"legendY":9}},"stroke":{"field":"area","type":"nominal","scale":{"domain":["津奈木町","熊本県"],"range":["#000000","#505050"]},"legend":{"title":null,"orient":"none","legendX":214,"legendY":9}},"shape":{"field":"area","type":"nominal","scale":{"domain":["津奈木町","熊本県"],"range":["M-2.5,0H2.5M-0.6,-0.6H0.6V0.6H-0.6Z","M-2.5,0H2.5M0,-0.6L0.6,0L0,0.6L-0.6,0Z"]},"legend":{"title":null,"orient":"none","legendX":214,"legendY":9}}}}
]},
{"width":313,"height":168,"layer":[
{"data":{"values":[{"label":"むし歯有病者率（人吉市）"}]},"mark":{"type":"rect","filled":false,"stroke":"#333333","strokeWidth":1},"encoding":{"x":{"datum":0.75,"type":"quantitative","scale":{"domain":[1.5,6.5]},"axis":{"values":[2.5,3.5,4.5,5.5,6.5],"labelExpr":"'R0' + (datum.value - 0.5)","title":null}},"x2":{"datum":6.66},"y":{"datum":-18.5,"type":"quantitative","scale":{"domain":[0,100]},"axis":{"values":[0,20,40,60,80,100],"title":"%","gridColor":{"condition":{"test":"datum.value==0||datum.value==100","value":"transparent"},"value":"#444444"}}},"y2":{"datum":121}}},
{"data":{"values":[{"label":"むし歯有病者率（人吉市）"}]},"mark":{"type":"text","font":"Noto Sans CJK JP","fontSize":13.5,"color":"#000000","baseline":"middle"},"encoding":{"x":{"datum":4.3,"type":"quantitative","scale":{"domain":[1.5,6.5]},"axis":{"values":[2.5,3.5,4.5,5.5,6.5],"labelExpr":"'R0' + (datum.value - 0.5)","title":null}},"y":{"datum":109,"type":"quantitative","scale":{"domain":[0,100]},"axis":{"values":[0,20,40,60,80,100],"title":"%","gridColor":{"condition":{"test":"datum.value==0||datum.value==100","value":"transparent"},"value":"#444444"}}},"text":{"field":"label"}}},
{"data":{"name":"rates"},"transform":[{"filter":"datum.area=='人吉市'"}],"mark":{"type":"line","color":"#000000","strokeWidth":1.6},"encoding":{"x":{"field":"year","type":"quantitative","scale":{"domain":[1.5,6.5]},"axis":{"values":[2.5,3.5,4.5,5.5,6.5],"labelExpr":"'R0' + (datum.value - 0.5)","title":null}},"y":{"field":"rate","type":"quantitative","scale":{"domain":[0,100]},"axis":{"values":[0,20,40,60,80,100],"title":"%","gridColor":{"condition":{"test":"datum.value==0||datum.value==100","value":"transparent"},"value":"#444444"}}}}},
{"data":{"name":"rates"},"transform":[{"filter":"datum.area=='熊本県'"}],"mark":{"type":"line","color":"#505050","strokeWidth":1.6},"encoding":{"x":{"field":"year","type":"quantitative","scale":{"domain":[1.5,6.5]},"axis":{"values":[2.5,3.5,4.5,5.5,6.5],"labelExpr":"'R0' + (datum.value - 0.5)","title":null}},"y":{"field":"rate","type":"quantitative","scale":{"domain":[0,100]},"axis":{"values":[0,20,40,60,80,100],"title":"%","gridColor":{"condition":{"test":"datum.value==0||datum.value==100","value":"transparent"},"value":"#444444"}}}}},
{"data":{"name":"rates"},"transform":[{"filter":"datum.area=='人吉市'"}],"mark":{"type":"point","filled":true,"opacity":1,"size":100,"shape":"square","color":"#000000"},"encoding":{"x":{"field":"year","type":"quantitative","scale":{"domain":[1.5,6.5]},"axis":{"values":[2.5,3.5,4.5,5.5,6.5],"labelExpr":"'R0' + (datum.value - 0.5)","title":null}},"y":{"field":"rate","type":"quantitative","scale":{"domain":[0,100]},"axis":{"values":[0,20,40,60,80,100],"title":"%","gridColor":{"condition":{"test":"datum.value==0||datum.value==100","value":"transparent"},"value":"#444444"}}}}},
{"data":{"name":"rates"},"transform":[{"filter":"datum.area=='熊本県'"}],"mark":{"type":"point","filled":true,"opacity":1,"size":100,"shape":"M0,-0.85L0.85,0L0,0.85L-0.85,0Z","color":"#505050"},"encoding":{"x":{"field":"year","type":"quantitative","scale":{"domain":[1.5,6.5]},"axis":{"values":[2.5,3.5,4.5,5.5,6.5],"labelExpr":"'R0' + (datum.value - 0.5)","title":null}},"y":{"field":"rate","type":"quantitative","scale":{"domain":[0,100]},"axis":{"values":[0,20,40,60,80,100],"title":"%","gridColor":{"condition":{"test":"datum.value==0||datum.value==100","value":"transparent"},"value":"#444444"}}}}},
{"data":{"name":"rates"},"transform":[{"filter":"false"}],"mark":{"type":"point","filled":true,"opacity":1},"encoding":{"x":{"field":"year","type":"quantitative","scale":{"domain":[1.5,6.5]},"axis":{"values":[2.5,3.5,4.5,5.5,6.5],"labelExpr":"'R0' + (datum.value - 0.5)","title":null}},"y":{"field":"rate","type":"quantitative","scale":{"domain":[0,100]},"axis":{"values":[0,20,40,60,80,100],"title":"%","gridColor":{"condition":{"test":"datum.value==0||datum.value==100","value":"transparent"},"value":"#444444"}}},"fill":{"field":"area","type":"nominal","scale":{"domain":["人吉市","熊本県"],"range":["#000000","#505050"]},"legend":{"title":null,"orient":"none","legendX":227,"legendY":9}},"stroke":{"field":"area","type":"nominal","scale":{"domain":["人吉市","熊本県"],"range":["#000000","#505050"]},"legend":{"title":null,"orient":"none","legendX":227,"legendY":9}},"shape":{"field":"area","type":"nominal","scale":{"domain":["人吉市","熊本県"],"range":["M-2.5,0H2.5M-0.6,-0.6H0.6V0.6H-0.6Z","M-2.5,0H2.5M0,-0.6L0.6,0L0,0.6L-0.6,0Z"]},"legend":{"title":null,"orient":"none","legendX":227,"legendY":9}}}}
]},
{"width":313,"height":168,"layer":[
{"data":{"values":[{"label":"むし歯有病者率（錦町）"}]},"mark":{"type":"rect","filled":false,"stroke":"#333333","strokeWidth":1},"encoding":{"x":{"datum":0.75,"type":"quantitative","scale":{"domain":[1.5,6.5]},"axis":{"values":[2.5,3.5,4.5,5.5,6.5],"labelExpr":"'R0' + (datum.value - 0.5)","title":null}},"x2":{"datum":6.66},"y":{"datum":-18.5,"type":"quantitative","scale":{"domain":[0,100]},"axis":{"values":[0,20,40,60,80,100],"title":"%","gridColor":{"condition":{"test":"datum.value==0||datum.value==100","value":"transparent"},"value":"#444444"}}},"y2":{"datum":121}}},
{"data":{"values":[{"label":"むし歯有病者率（錦町）"}]},"mark":{"type":"text","font":"Noto Sans CJK JP","fontSize":13.5,"color":"#000000","baseline":"middle"},"encoding":{"x":{"datum":4.3,"type":"quantitative","scale":{"domain":[1.5,6.5]},"axis":{"values":[2.5,3.5,4.5,5.5,6.5],"labelExpr":"'R0' + (datum.value - 0.5)","title":null}},"y":{"datum":109,"type":"quantitative","scale":{"domain":[0,100]},"axis":{"values":[0,20,40,60,80,100],"title":"%","gridColor":{"condition":{"test":"datum.value==0||datum.value==100","value":"transparent"},"value":"#444444"}}},"text":{"field":"label"}}},
{"data":{"name":"rates"},"transform":[{"filter":"datum.area=='錦町'"}],"mark":{"type":"line","color":"#000000","strokeWidth":1.6},"encoding":{"x":{"field":"year","type":"quantitative","scale":{"domain":[1.5,6.5]},"axis":{"values":[2.5,3.5,4.5,5.5,6.5],"labelExpr":"'R0' + (datum.value - 0.5)","title":null}},"y":{"field":"rate","type":"quantitative","scale":{"domain":[0,100]},"axis":{"values":[0,20,40,60,80,100],"title":"%","gridColor":{"condition":{"test":"datum.value==0||datum.value==100","value":"transparent"},"value":"#444444"}}}}},
{"data":{"name":"rates"},"transform":[{"filter":"datum.area=='熊本県'"}],"mark":{"type":"line","color":"#505050","strokeWidth":1.6},"encoding":{"x":{"field":"year","type":"quantitative","scale":{"domain":[1.5,6.5]},"axis":{"values":[2.5,3.5,4.5,5.5,6.5],"labelExpr":"'R0' + (datum.value - 0.5)","title":null}},"y":{"field":"rate","type":"quantitative","scale":{"domain":[0,100]},"axis":{"values":[0,20,40,60,80,100],"title":"%","gridColor":{"condition":{"test":"datum.value==0||datum.value==100","value":"transparent"},"value":"#444444"}}}}},
{"data":{"name":"rates"},"transform":[{"filter":"datum.area=='錦町'"}],"mark":{"type":"point","filled":true,"opacity":1,"size":100,"shape":"square","color":"#000000"},"encoding":{"x":{"field":"year","type":"quantitative","scale":{"domain":[1.5,6.5]},"axis":{"values":[2.5,3.5,4.5,5.5,6.5],"labelExpr":"'R0' + (datum.value - 0.5)","title":null}},"y":{"field":"rate","type":"quantitative","scale":{"domain":[0,100]},"axis":{"values":[0,20,40,60,80,100],"title":"%","gridColor":{"condition":{"test":"datum.value==0||datum.value==100","value":"transparent"},"value":"#444444"}}}}},
{"data":{"name":"rates"},"transform":[{"filter":"datum.area=='熊本県'"}],"mark":{"type":"point","filled":true,"opacity":1,"size":100,"shape":"M0,-0.85L0.85,0L0,0.85L-0.85,0Z","color":"#505050"},"encoding":{"x":{"field":"year","type":"quantitative","scale":{"domain":[1.5,6.5]},"axis":{"values":[2.5,3.5,4.5,5.5,6.5],"labelExpr":"'R0' + (datum.value - 0.5)","title":null}},"y":{"field":"rate","type":"quantitative","scale":{"domain":[0,100]},"axis":{"values":[0,20,40,60,80,100],"title":"%","gridColor":{"condition":{"test":"datum.value==0||datum.value==100","value":"transparent"},"value":"#444444"}}}}},
{"data":{"name":"rates"},"transform":[{"filter":"false"}],"mark":{"type":"point","filled":true,"opacity":1},"encoding":{"x":{"field":"year","type":"quantitative","scale":{"domain":[1.5,6.5]},"axis":{"values":[2.5,3.5,4.5,5.5,6.5],"labelExpr":"'R0' + (datum.value - 0.5)","title":null}},"y":{"field":"rate","type":"quantitative","scale":{"domain":[0,100]},"axis":{"values":[0,20,40,60,80,100],"title":"%","gridColor":{"condition":{"test":"datum.value==0||datum.value==100","value":"transparent"},"value":"#444444"}}},"fill":{"field":"area","type":"nominal","scale":{"domain":["錦町","熊本県"],"range":["#000000","#505050"]},"legend":{"title":null,"orient":"none","legendX":220,"legendY":9}},"stroke":{"field":"area","type":"nominal","scale":{"domain":["錦町","熊本県"],"range":["#000000","#505050"]},"legend":{"title":null,"orient":"none","legendX":220,"legendY":9}},"shape":{"field":"area","type":"nominal","scale":{"domain":["錦町","熊本県"],"range":["M-2.5,0H2.5M-0.6,-0.6H0.6V0.6H-0.6Z","M-2.5,0H2.5M0,-0.6L0.6,0L0,0.6L-0.6,0Z"]},"legend":{"title":null,"orient":"none","legendX":220,"legendY":9}}}}
]},
{"width":313,"height":168,"layer":[
{"data":{"values":[{"label":"むし歯有病者率（多良木町）"}]},"mark":{"type":"rect","filled":false,"stroke":"#333333","strokeWidth":1},"encoding":{"x":{"datum":0.75,"type":"quantitative","scale":{"domain":[1.5,6.5]},"axis":{"values":[2.5,3.5,4.5,5.5,6.5],"labelExpr":"'R0' + (datum.value - 0.5)","title":null}},"x2":{"datum":6.66},"y":{"datum":-18.5,"type":"quantitative","scale":{"domain":[0,100]},"axis":{"values":[0,20,40,60,80,100],"title":"%","gridColor":{"condition":{"test":"datum.value==0||datum.value==100","value":"transparent"},"value":"#444444"}}},"y2":{"datum":121}}},
{"data":{"values":[{"label":"むし歯有病者率（多良木町）"}]},"mark":{"type":"text","font":"Noto Sans CJK JP","fontSize":13.5,"color":"#000000","baseline":"middle"},"encoding":{"x":{"datum":4.3,"type":"quantitative","scale":{"domain":[1.5,6.5]},"axis":{"values":[2.5,3.5,4.5,5.5,6.5],"labelExpr":"'R0' + (datum.value - 0.5)","title":null}},"y":{"datum":109,"type":"quantitative","scale":{"domain":[0,100]},"axis":{"values":[0,20,40,60,80,100],"title":"%","gridColor":{"condition":{"test":"datum.value==0||datum.value==100","value":"transparent"},"value":"#444444"}}},"text":{"field":"label"}}},
{"data":{"name":"rates"},"transform":[{"filter":"datum.area=='多良木町'"}],"mark":{"type":"line","color":"#000000","strokeWidth":1.6},"encoding":{"x":{"field":"year","type":"quantitative","scale":{"domain":[1.5,6.5]},"axis":{"values":[2.5,3.5,4.5,5.5,6.5],"labelExpr":"'R0' + (datum.value - 0.5)","title":null}},"y":{"field":"rate","type":"quantitative","scale":{"domain":[0,100]},"axis":{"values":[0,20,40,60,80,100],"title":"%","gridColor":{"condition":{"test":"datum.value==0||datum.value==100","value":"transparent"},"value":"#444444"}}}}},
{"data":{"name":"rates"},"transform":[{"filter":"datum.area=='熊本県'"}],"mark":{"type":"line","color":"#505050","strokeWidth":1.6},"encoding":{"x":{"field":"year","type":"quantitative","scale":{"domain":[1.5,6.5]},"axis":{"values":[2.5,3.5,4.5,5.5,6.5],"labelExpr":"'R0' + (datum.value - 0.5)","title":null}},"y":{"field":"rate","type":"quantitative","scale":{"domain":[0,100]},"axis":{"values":[0,20,40,60,80,100],"title":"%","gridColor":{"condition":{"test":"datum.value==0||datum.value==100","value":"transparent"},"value":"#444444"}}}}},
{"data":{"name":"rates"},"transform":[{"filter":"datum.area=='多良木町'"}],"mark":{"type":"point","filled":true,"opacity":1,"size":100,"shape":"square","color":"#000000"},"encoding":{"x":{"field":"year","type":"quantitative","scale":{"domain":[1.5,6.5]},"axis":{"values":[2.5,3.5,4.5,5.5,6.5],"labelExpr":"'R0' + (datum.value - 0.5)","title":null}},"y":{"field":"rate","type":"quantitative","scale":{"domain":[0,100]},"axis":{"values":[0,20,40,60,80,100],"title":"%","gridColor":{"condition":{"test":"datum.value==0||datum.value==100","value":"transparent"},"value":"#444444"}}}}},
{"data":{"name":"rates"},"transform":[{"filter":"datum.area=='熊本県'"}],"mark":{"type":"point","filled":true,"opacity":1,"size":100,"shape":"M0,-0.85L0.85,0L0,0.85L-0.85,0Z","color":"#505050"},"encoding":{"x":{"field":"year","type":"quantitative","scale":{"domain":[1.5,6.5]},"axis":{"values":[2.5,3.5,4.5,5.5,6.5],"labelExpr":"'R0' + (datum.value - 0.5)","title":null}},"y":{"field":"rate","type":"quantitative","scale":{"domain":[0,100]},"axis":{"values":[0,20,40,60,80,100],"title":"%","gridColor":{"condition":{"test":"datum.value==0||datum.value==100","value":"transparent"},"value":"#444444"}}}}},
{"data":{"name":"rates"},"transform":[{"filter":"false"}],"mark":{"type":"point","filled":true,"opacity":1},"encoding":{"x":{"field":"year","type":"quantitative","scale":{"domain":[1.5,6.5]},"axis":{"values":[2.5,3.5,4.5,5.5,6.5],"labelExpr":"'R0' + (datum.value - 0.5)","title":null}},"y":{"field":"rate","type":"quantitative","scale":{"domain":[0,100]},"axis":{"values":[0,20,40,60,80,100],"title":"%","gridColor":{"condition":{"test":"datum.value==0||datum.value==100","value":"transparent"},"value":"#444444"}}},"fill":{"field":"area","type":"nominal","scale":{"domain":["多良木町","熊本県"],"range":["#000000","#505050"]},"legend":{"title":null,"orient":"none","legendX":215,"legendY":9}},"stroke":{"field":"area","type":"nominal","scale":{"domain":["多良木町","熊本県"],"range":["#000000","#505050"]},"legend":{"title":null,"orient":"none","legendX":215,"legendY":9}},"shape":{"field":"area","type":"nominal","scale":{"domain":["多良木町","熊本県"],"range":["M-2.5,0H2.5M-0.6,-0.6H0.6V0.6H-0.6Z","M-2.5,0H2.5M0,-0.6L0.6,0L0,0.6L-0.6,0Z"]},"legend":{"title":null,"orient":"none","legendX":215,"legendY":9}}}}
]},
{"width":313,"height":168,"layer":[
{"data":{"values":[{"label":"むし歯有病者率（湯前町）"}]},"mark":{"type":"rect","filled":false,"stroke":"#333333","strokeWidth":1},"encoding":{"x":{"datum":0.75,"type":"quantitative","scale":{"domain":[1.5,6.5]},"axis":{"values":[2.5,3.5,4.5,5.5,6.5],"labelExpr":"'R0' + (datum.value - 0.5)","title":null}},"x2":{"datum":6.66},"y":{"datum":-18.5,"type":"quantitative","scale":{"domain":[0,100]},"axis":{"values":[0,20,40,60,80,100],"title":"%","gridColor":{"condition":{"test":"datum.value==0||datum.value==100","value":"transparent"},"value":"#444444"}}},"y2":{"datum":121}}},
{"data":{"values":[{"label":"むし歯有病者率（湯前町）"}]},"mark":{"type":"text","font":"Noto Sans CJK JP","fontSize":13.5,"color":"#000000","baseline":"middle"},"encoding":{"x":{"datum":4.3,"type":"quantitative","scale":{"domain":[1.5,6.5]},"axis":{"values":[2.5,3.5,4.5,5.5,6.5],"labelExpr":"'R0' + (datum.value - 0.5)","title":null}},"y":{"datum":109,"type":"quantitative","scale":{"domain":[0,100]},"axis":{"values":[0,20,40,60,80,100],"title":"%","gridColor":{"condition":{"test":"datum.value==0||datum.value==100","value":"transparent"},"value":"#444444"}}},"text":{"field":"label"}}},
{"data":{"name":"rates"},"transform":[{"filter":"datum.area=='湯前町'"}],"mark":{"type":"line","color":"#000000","strokeWidth":1.6},"encoding":{"x":{"field":"year","type":"quantitative","scale":{"domain":[1.5,6.5]},"axis":{"values":[2.5,3.5,4.5,5.5,6.5],"labelExpr":"'R0' + (datum.value - 0.5)","title":null}},"y":{"field":"rate","type":"quantitative","scale":{"domain":[0,100]},"axis":{"values":[0,20,40,60,80,100],"title":"%","gridColor":{"condition":{"test":"datum.value==0||datum.value==100","value":"transparent"},"value":"#444444"}}}}},
{"data":{"name":"rates"},"transform":[{"filter":"datum.area=='熊本県'"}],"mark":{"type":"line","color":"#505050","strokeWidth":1.6},"encoding":{"x":{"field":"year","type":"quantitative","scale":{"domain":[1.5,6.5]},"axis":{"values":[2.5,3.5,4.5,5.5,6.5],"labelExpr":"'R0' + (datum.value - 0.5)","title":null}},"y":{"field":"rate","type":"quantitative","scale":{"domain":[0,100]},"axis":{"values":[0,20,40,60,80,100],"title":"%","gridColor":{"condition":{"test":"datum.value==0||datum.value==100","value":"transparent"},"value":"#444444"}}}}},
{"data":{"name":"rates"},"transform":[{"filter":"datum.area=='湯前町'"}],"mark":{"type":"point","filled":true,"opacity":1,"size":100,"shape":"square","color":"#000000"},"encoding":{"x":{"field":"year","type":"quantitative","scale":{"domain":[1.5,6.5]},"axis":{"values":[2.5,3.5,4.5,5.5,6.5],"labelExpr":"'R0' + (datum.value - 0.5)","title":null}},"y":{"field":"rate","type":"quantitative","scale":{"domain":[0,100]},"axis":{"values":[0,20,40,60,80,100],"title":"%","gridColor":{"condition":{"test":"datum.value==0||datum.value==100","value":"transparent"},"value":"#444444"}}}}},
{"data":{"name":"rates"},"transform":[{"filter":"datum.area=='熊本県'"}],"mark":{"type":"point","filled":true,"opacity":1,"size":100,"shape":"M0,-0.85L0.85,0L0,0.85L-0.85,0Z","color":"#505050"},"encoding":{"x":{"field":"year","type":"quantitative","scale":{"domain":[1.5,6.5]},"axis":{"values":[2.5,3.5,4.5,5.5,6.5],"labelExpr":"'R0' + (datum.value - 0.5)","title":null}},"y":{"field":"rate","type":"quantitative","scale":{"domain":[0,100]},"axis":{"values":[0,20,40,60,80,100],"title":"%","gridColor":{"condition":{"test":"datum.value==0||datum.value==100","value":"transparent"},"value":"#444444"}}}}},
{"data":{"name":"rates"},"transform":[{"filter":"false"}],"mark":{"type":"point","filled":true,"opacity":1},"encoding":{"x":{"field":"year","type":"quantitative","scale":{"domain":[1.5,6.5]},"axis":{"values":[2.5,3.5,4.5,5.5,6.5],"labelExpr":"'R0' + (datum.value - 0.5)","title":null}},"y":{"field":"rate","type":"quantitative","scale":{"domain":[0,100]},"axis":{"values":[0,20,40,60,80,100],"title":"%","gridColor":{"condition":{"test":"datum.value==0||datum.value==100","value":"transparent"},"value":"#444444"}}},"fill":{"field":"area","type":"nominal","scale":{"domain":["湯前町","熊本県"],"range":["#000000","#505050"]},"legend":{"title":null,"orient":"none","legendX":8,"legendY":9}},"stroke":{"field":"area","type":"nominal","scale":{"domain":["湯前町","熊本県"],"range":["#000000","#505050"]},"legend":{"title":null,"orient":"none","legendX":8,"legendY":9}},"shape":{"field":"area","type":"nominal","scale":{"domain":["湯前町","熊本県"],"range":["M-2.5,0H2.5M-0.6,-0.6H0.6V0.6H-0.6Z","M-2.5,0H2.5M0,-0.6L0.6,0L0,0.6L-0.6,0Z"]},"legend":{"title":null,"orient":"none","legendX":8,"legendY":9}}}}
]},
{"width":313,"height":168,"layer":[
{"data":{"values":[{"label":"むし歯有病者率（水上村）"}]},"mark":{"type":"rect","filled":false,"stroke":"#333333","strokeWidth":1},"encoding":{"x":{"datum":0.75,"type":"quantitative","scale":{"domain":[1.5,6.5]},"axis":{"values":[2.5,3.5,4.5,5.5,6.5],"labelExpr":"'R0' + (datum.value - 0.5)","title":null}},"x2":{"datum":6.66},"y":{"datum":-18.5,"type":"quantitative","scale":{"domain":[0,100]},"axis":{"values":[0,20,40,60,80,100],"title":"%","gridColor":{"condition":{"test":"datum.value==0||datum.value==100","value":"transparent"},"value":"#444444"}}},"y2":{"datum":121}}},
{"data":{"values":[{"label":"むし歯有病者率（水上村）"}]},"mark":{"type":"text","font":"Noto Sans CJK JP","fontSize":13.5,"color":"#000000","baseline":"middle"},"encoding":{"x":{"datum":4.3,"type":"quantitative","scale":{"domain":[1.5,6.5]},"axis":{"values":[2.5,3.5,4.5,5.5,6.5],"labelExpr":"'R0' + (datum.value - 0.5)","title":null}},"y":{"datum":109,"type":"quantitative","scale":{"domain":[0,100]},"axis":{"values":[0,20,40,60,80,100],"title":"%","gridColor":{"condition":{"test":"datum.value==0||datum.value==100","value":"transparent"},"value":"#444444"}}},"text":{"field":"label"}}},
{"data":{"name":"rates"},"transform":[{"filter":"datum.area=='水上村'"}],"mark":{"type":"line","color":"#000000","strokeWidth":1.6},"encoding":{"x":{"field":"year","type":"quantitative","scale":{"domain":[1.5,6.5]},"axis":{"values":[2.5,3.5,4.5,5.5,6.5],"labelExpr":"'R0' + (datum.value - 0.5)","title":null}},"y":{"field":"rate","type":"quantitative","scale":{"domain":[0,100]},"axis":{"values":[0,20,40,60,80,100],"title":"%","gridColor":{"condition":{"test":"datum.value==0||datum.value==100","value":"transparent"},"value":"#444444"}}}}},
{"data":{"name":"rates"},"transform":[{"filter":"datum.area=='熊本県'"}],"mark":{"type":"line","color":"#505050","strokeWidth":1.6},"encoding":{"x":{"field":"year","type":"quantitative","scale":{"domain":[1.5,6.5]},"axis":{"values":[2.5,3.5,4.5,5.5,6.5],"labelExpr":"'R0' + (datum.value - 0.5)","title":null}},"y":{"field":"rate","type":"quantitative","scale":{"domain":[0,100]},"axis":{"values":[0,20,40,60,80,100],"title":"%","gridColor":{"condition":{"test":"datum.value==0||datum.value==100","value":"transparent"},"value":"#444444"}}}}},
{"data":{"name":"rates"},"transform":[{"filter":"datum.area=='水上村'"}],"mark":{"type":"point","filled":true,"opacity":1,"size":100,"shape":"square","color":"#000000"},"encoding":{"x":{"field":"year","type":"quantitative","scale":{"domain":[1.5,6.5]},"axis":{"values":[2.5,3.5,4.5,5.5,6.5],"labelExpr":"'R0' + (datum.value - 0.5)","title":null}},"y":{"field":"rate","type":"quantitative","scale":{"domain":[0,100]},"axis":{"values":[0,20,40,60,80,100],"title":"%","gridColor":{"condition":{"test":"datum.value==0||datum.value==100","value":"transparent"},"value":"#444444"}}}}},
{"data":{"name":"rates"},"transform":[{"filter":"datum.area=='熊本県'"}],"mark":{"type":"point","filled":true,"opacity":1,"size":100,"shape":"M0,-0.85L0.85,0L0,0.85L-0.85,0Z","color":"#505050"},"encoding":{"x":{"field":"year","type":"quantitative","scale":{"domain":[1.5,6.5]},"axis":{"values":[2.5,3.5,4.5,5.5,6.5],"labelExpr":"'R0' + (datum.value - 0.5)","title":null}},"y":{"field":"rate","type":"quantitative","scale":{"domain":[0,100]},"axis":{"values":[0,20,40,60,80,100],"title":"%","gridColor":{"condition":{"test":"datum.value==0||datum.value==100","value":"transparent"},"value":"#444444"}}}}},
{"data":{"name":"rates"},"transform":[{"filter":"false"}],"mark":{"type":"point","filled":true,"opacity":1},"encoding":{"x":{"field":"year","type":"quantitative","scale":{"domain":[1.5,6.5]},"axis":{"values":[2.5,3.5,4.5,5.5,6.5],"labelExpr":"'R0' + (datum.value - 0.5)","title":null}},"y":{"field":"rate","type":"quantitative","scale":{"domain":[0,100]},"axis":{"values":[0,20,40,60,80,100],"title":"%","gridColor":{"condition":{"test":"datum.value==0||datum.value==100","value":"transparent"},"value":"#444444"}}},"fill":{"field":"area","type":"nominal","scale":{"domain":["水上村","熊本県"],"range":["#000000","#505050"]},"legend":{"title":null,"orient":"none","legendX":224,"legendY":9}},"stroke":{"field":"area","type":"nominal","scale":{"domain":["水上村","熊本県"],"range":["#000000","#505050"]},"legend":{"title":null,"orient":"none","legendX":224,"legendY":9}},"shape":{"field":"area","type":"nominal","scale":{"domain":["水上村","熊本県"],"range":["M-2.5,0H2.5M-0.6,-0.6H0.6V0.6H-0.6Z","M-2.5,0H2.5M0,-0.6L0.6,0L0,0.6L-0.6,0Z"]},"legend":{"title":null,"orient":"none","legendX":224,"legendY":9}}}}
]},
{"width":313,"height":168,"layer":[
{"data":{"values":[{"label":"むし歯有病者率（相良村）"}]},"mark":{"type":"rect","filled":false,"stroke":"#333333","strokeWidth":1},"encoding":{"x":{"datum":0.75,"type":"quantitative","scale":{"domain":[1.5,6.5]},"axis":{"values":[2.5,3.5,4.5,5.5,6.5],"labelExpr":"'R0' + (datum.value - 0.5)","title":null}},"x2":{"datum":6.66},"y":{"datum":-18.5,"type":"quantitative","scale":{"domain":[0,100]},"axis":{"values":[0,20,40,60,80,100],"title":"%","gridColor":{"condition":{"test":"datum.value==0||datum.value==100","value":"transparent"},"value":"#444444"}}},"y2":{"datum":121}}},
{"data":{"values":[{"label":"むし歯有病者率（相良村）"}]},"mark":{"type":"text","font":"Noto Sans CJK JP","fontSize":13.5,"color":"#000000","baseline":"middle"},"encoding":{"x":{"datum":4.3,"type":"quantitative","scale":{"domain":[1.5,6.5]},"axis":{"values":[2.5,3.5,4.5,5.5,6.5],"labelExpr":"'R0' + (datum.value - 0.5)","title":null}},"y":{"datum":109,"type":"quantitative","scale":{"domain":[0,100]},"axis":{"values":[0,20,40,60,80,100],"title":"%","gridColor":{"condition":{"test":"datum.value==0||datum.value==100","value":"transparent"},"value":"#444444"}}},"text":{"field":"label"}}},
{"data":{"name":"rates"},"transform":[{"filter":"datum.area=='相良村'"}],"mark":{"type":"line","color":"#000000","strokeWidth":1.6},"encoding":{"x":{"field":"year","type":"quantitative","scale":{"domain":[1.5,6.5]},"axis":{"values":[2.5,3.5,4.5,5.5,6.5],"labelExpr":"'R0' + (datum.value - 0.5)","title":null}},"y":{"field":"rate","type":"quantitative","scale":{"domain":[0,100]},"axis":{"values":[0,20,40,60,80,100],"title":"%","gridColor":{"condition":{"test":"datum.value==0||datum.value==100","value":"transparent"},"value":"#444444"}}}}},
{"data":{"name":"rates"},"transform":[{"filter":"datum.area=='熊本県'"}],"mark":{"type":"line","color":"#505050","strokeWidth":1.6},"encoding":{"x":{"field":"year","type":"quantitative","scale":{"domain":[1.5,6.5]},"axis":{"values":[2.5,3.5,4.5,5.5,6.5],"labelExpr":"'R0' + (datum.value - 0.5)","title":null}},"y":{"field":"rate","type":"quantitative","scale":{"domain":[0,100]},"axis":{"values":[0,20,40,60,80,100],"title":"%","gridColor":{"condition":{"test":"datum.value==0||datum.value==100","value":"transparent"},"value":"#444444"}}}}},
{"data":{"name":"rates"},"transform":[{"filter":"datum.area=='相良村'"}],"mark":{"type":"point","filled":true,"opacity":1,"size":100,"shape":"square","color":"#000000"},"encoding":{"x":{"field":"year","type":"quantitative","scale":{"domain":[1.5,6.5]},"axis":{"values":[2.5,3.5,4.5,5.5,6.5],"labelExpr":"'R0' + (datum.value - 0.5)","title":null}},"y":{"field":"rate","type":"quantitative","scale":{"domain":[0,100]},"axis":{"values":[0,20,40,60,80,100],"title":"%","gridColor":{"condition":{"test":"datum.value==0||datum.value==100","value":"transparent"},"value":"#444444"}}}}},
{"data":{"name":"rates"},"transform":[{"filter":"datum.area=='熊本県'"}],"mark":{"type":"point","filled":true,"opacity":1,"size":100,"shape":"M0,-0.85L0.85,0L0,0.85L-0.85,0Z","color":"#505050"},"encoding":{"x":{"field":"year","type":"quantitative","scale":{"domain":[1.5,6.5]},"axis":{"values":[2.5,3.5,4.5,5.5,6.5],"labelExpr":"'R0' + (datum.value - 0.5)","title":null}},"y":{"field":"rate","type":"quantitative","scale":{"domain":[0,100]},"axis":{"values":[0,20,40,60,80,100],"title":"%","gridColor":{"condition":{"test":"datum.value==0||datum.value==100","value":"transparent"},"value":"#444444"}}}}},
{"data":{"name":"rates"},"transform":[{"filter":"false"}],"mark":{"type":"point","filled":true,"opacity":1},"encoding":{"x":{"field":"year","type":"quantitative","scale":{"domain":[1.5,6.5]},"axis":{"values":[2.5,3.5,4.5,5.5,6.5],"labelExpr":"'R0' + (datum.value - 0.5)","title":null}},"y":{"field":"rate","type":"quantitative","scale":{"domain":[0,100]},"axis":{"values":[0,20,40,60,80,100],"title":"%","gridColor":{"condition":{"test":"datum.value==0||datum.value==100","value":"transparent"},"value":"#444444"}}},"fill":{"field":"area","type":"nominal","scale":{"domain":["相良村","熊本県"],"range":["#000000","#505050"]},"legend":{"title":null,"orient":"none","legendX":226,"legendY":9}},"stroke":{"field":"area","type":"nominal","scale":{"domain":["相良村","熊本県"],"range":["#000000","#505050"]},"legend":{"title":null,"orient":"none","legendX":226,"legendY":9}},"shape":{"field":"area","type":"nominal","scale":{"domain":["相良村","熊本県"],"range":["M-2.5,0H2.5M-0.6,-0.6H0.6V0.6H-0.6Z","M-2.5,0H2.5M0,-0.6L0.6,0L0,0.6L-0.6,0Z"]},"legend":{"title":null,"orient":"none","legendX":226,"legendY":9}}}}
]},
{"width":313,"height":168,"layer":[
{"data":{"values":[{"label":"むし歯有病者率（五木村）"}]},"mark":{"type":"rect","filled":false,"stroke":"#333333","strokeWidth":1},"encoding":{"x":{"datum":0.75,"type":"quantitative","scale":{"domain":[1.5,6.5]},"axis":{"values":[2.5,3.5,4.5,5.5,6.5],"labelExpr":"'R0' + (datum.value - 0.5)","title":null}},"x2":{"datum":6.66},"y":{"datum":-18.5,"type":"quantitative","scale":{"domain":[0,100]},"axis":{"values":[0,20,40,60,80,100],"title":"%","gridColor":{"condition":{"test":"datum.value==0||datum.value==100","value":"transparent"},"value":"#444444"}}},"y2":{"datum":121}}},
{"data":{"values":[{"label":"むし歯有病者率（五木村）"}]},"mark":{"type":"text","font":"Noto Sans CJK JP","fontSize":13.5,"color":"#000000","baseline":"middle"},"encoding":{"x":{"datum":4.3,"type":"quantitative","scale":{"domain":[1.5,6.5]},"axis":{"values":[2.5,3.5,4.5,5.5,6.5],"labelExpr":"'R0' + (datum.value - 0.5)","title":null}},"y":{"datum":109,"type":"quantitative","scale":{"domain":[0,100]},"axis":{"values":[0,20,40,60,80,100],"title":"%","gridColor":{"condition":{"test":"datum.value==0||datum.value==100","value":"transparent"},"value":"#444444"}}},"text":{"field":"label"}}},
{"data":{"name":"rates"},"transform":[{"filter":"datum.area=='五木村'"}],"mark":{"type":"line","color":"#000000","strokeWidth":1.6},"encoding":{"x":{"field":"year","type":"quantitative","scale":{"domain":[1.5,6.5]},"axis":{"values":[2.5,3.5,4.5,5.5,6.5],"labelExpr":"'R0' + (datum.value - 0.5)","title":null}},"y":{"field":"rate","type":"quantitative","scale":{"domain":[0,100]},"axis":{"values":[0,20,40,60,80,100],"title":"%","gridColor":{"condition":{"test":"datum.value==0||datum.value==100","value":"transparent"},"value":"#444444"}}}}},
{"data":{"name":"rates"},"transform":[{"filter":"datum.area=='熊本県'"}],"mark":{"type":"line","color":"#505050","strokeWidth":1.6},"encoding":{"x":{"field":"year","type":"quantitative","scale":{"domain":[1.5,6.5]},"axis":{"values":[2.5,3.5,4.5,5.5,6.5],"labelExpr":"'R0' + (datum.value - 0.5)","title":null}},"y":{"field":"rate","type":"quantitative","scale":{"domain":[0,100]},"axis":{"values":[0,20,40,60,80,100],"title":"%","gridColor":{"condition":{"test":"datum.value==0||datum.value==100","value":"transparent"},"value":"#444444"}}}}},
{"data":{"name":"rates"},"transform":[{"filter":"datum.area=='五木村'"}],"mark":{"type":"point","filled":true,"opacity":1,"size":100,"shape":"square","color":"#000000"},"encoding":{"x":{"field":"year","type":"quantitative","scale":{"domain":[1.5,6.5]},"axis":{"values":[2.5,3.5,4.5,5.5,6.5],"labelExpr":"'R0' + (datum.value - 0.5)","title":null}},"y":{"field":"rate","type":"quantitative","scale":{"domain":[0,100]},"axis":{"values":[0,20,40,60,80,100],"title":"%","gridColor":{"condition":{"test":"datum.value==0||datum.value==100","value":"transparent"},"value":"#444444"}}}}},
{"data":{"name":"rates"},"transform":[{"filter":"datum.area=='熊本県'"}],"mark":{"type":"point","filled":true,"opacity":1,"size":100,"shape":"M0,-0.85L0.85,0L0,0.85L-0.85,0Z","color":"#505050"},"encoding":{"x":{"field":"year","type":"quantitative","scale":{"domain":[1.5,6.5]},"axis":{"values":[2.5,3.5,4.5,5.5,6.5],"labelExpr":"'R0' + (datum.value - 0.5)","title":null}},"y":{"field":"rate","type":"quantitative","scale":{"domain":[0,100]},"axis":{"values":[0,20,40,60,80,100],"title":"%","gridColor":{"condition":{"test":"datum.value==0||datum.value==100","value":"transparent"},"value":"#444444"}}}}},
{"data":{"name":"rates"},"transform":[{"filter":"false"}],"mark":{"type":"point","filled":true,"opacity":1},"encoding":{"x":{"field":"year","type":"quantitative","scale":{"domain":[1.5,6.5]},"axis":{"values":[2.5,3.5,4.5,5.5,6.5],"labelExpr":"'R0' + (datum.value - 0.5)","title":null}},"y":{"field":"rate","type":"quantitative","scale":{"domain":[0,100]},"axis":{"values":[0,20,40,60,80,100],"title":"%","gridColor":{"condition":{"test":"datum.value==0||datum.value==100","value":"transparent"},"value":"#444444"}}},"fill":{"field":"area","type":"nominal","scale":{"domain":["五木村","熊本県"],"range":["#000000","#505050"]},"legend":{"title":null,"orient":"none","legendX":8,"legendY":12}},"stroke":{"field":"area","type":"nominal","scale":{"domain":["五木村","熊本県"],"range":["#000000","#505050"]},"legend":{"title":null,"orient":"none","legendX":8,"legendY":12}},"shape":{"field":"area","type":"nominal","scale":{"domain":["五木村","熊本県"],"range":["M-2.5,0H2.5M-0.6,-0.6H0.6V0.6H-0.6Z","M-2.5,0H2.5M0,-0.6L0.6,0L0,0.6L-0.6,0Z"]},"legend":{"title":null,"orient":"none","legendX":8,"legendY":12}}}}
]},
{"width":313,"height":168,"layer":[
{"data":{"values":[{"label":"むし歯有病者率（山江村）"}]},"mark":{"type":"rect","filled":false,"stroke":"#333333","strokeWidth":1},"encoding":{"x":{"datum":0.75,"type":"quantitative","scale":{"domain":[1.5,6.5]},"axis":{"values":[2.5,3.5,4.5,5.5,6.5],"labelExpr":"'R0' + (datum.value - 0.5)","title":null}},"x2":{"datum":6.66},"y":{"datum":-18.5,"type":"quantitative","scale":{"domain":[0,100]},"axis":{"values":[0,20,40,60,80,100],"title":"%","gridColor":{"condition":{"test":"datum.value==0||datum.value==100","value":"transparent"},"value":"#444444"}}},"y2":{"datum":121}}},
{"data":{"values":[{"label":"むし歯有病者率（山江村）"}]},"mark":{"type":"text","font":"Noto Sans CJK JP","fontSize":13.5,"color":"#000000","baseline":"middle"},"encoding":{"x":{"datum":4.3,"type":"quantitative","scale":{"domain":[1.5,6.5]},"axis":{"values":[2.5,3.5,4.5,5.5,6.5],"labelExpr":"'R0' + (datum.value - 0.5)","title":null}},"y":{"datum":109,"type":"quantitative","scale":{"domain":[0,100]},"axis":{"values":[0,20,40,60,80,100],"title":"%","gridColor":{"condition":{"test":"datum.value==0||datum.value==100","value":"transparent"},"value":"#444444"}}},"text":{"field":"label"}}},
{"data":{"name":"rates"},"transform":[{"filter":"datum.area=='山江村'"}],"mark":{"type":"line","color":"#000000","strokeWidth":1.6},"encoding":{"x":{"field":"year","type":"quantitative","scale":{"domain":[1.5,6.5]},"axis":{"values":[2.5,3.5,4.5,5.5,6.5],"labelExpr":"'R0' + (datum.value - 0.5)","title":null}},"y":{"field":"rate","type":"quantitative","scale":{"domain":[0,100]},"axis":{"values":[0,20,40,60,80,100],"title":"%","gridColor":{"condition":{"test":"datum.value==0||datum.value==100","value":"transparent"},"value":"#444444"}}}}},
{"data":{"name":"rates"},"transform":[{"filter":"datum.area=='熊本県'"}],"mark":{"type":"line","color":"#505050","strokeWidth":1.6},"encoding":{"x":{"field":"year","type":"quantitative","scale":{"domain":[1.5,6.5]},"axis":{"values":[2.5,3.5,4.5,5.5,6.5],"labelExpr":"'R0' + (datum.value - 0.5)","title":null}},"y":{"field":"rate","type":"quantitative","scale":{"domain":[0,100]},"axis":{"values":[0,20,40,60,80,100],"title":"%","gridColor":{"condition":{"test":"datum.value==0||datum.value==100","value":"transparent"},"value":"#444444"}}}}},
{"data":{"name":"rates"},"transform":[{"filter":"datum.area=='山江村'"}],"mark":{"type":"point","filled":true,"opacity":1,"size":100,"shape":"square","color":"#000000"},"encoding":{"x":{"field":"year","type":"quantitative","scale":{"domain":[1.5,6.5]},"axis":{"values":[2.5,3.5,4.5,5.5,6.5],"labelExpr":"'R0' + (datum.value - 0.5)","title":null}},"y":{"field":"rate","type":"quantitative","scale":{"domain":[0,100]},"axis":{"values":[0,20,40,60,80,100],"title":"%","gridColor":{"condition":{"test":"datum.value==0||datum.value==100","value":"transparent"},"value":"#444444"}}}}},
{"data":{"name":"rates"},"transform":[{"filter":"datum.area=='熊本県'"}],"mark":{"type":"point","filled":true,"opacity":1,"size":100,"shape":"M0,-0.85L0.85,0L0,0.85L-0.85,0Z","color":"#505050"},"encoding":{"x":{"field":"year","type":"quantitative","scale":{"domain":[1.5,6.5]},"axis":{"values":[2.5,3.5,4.5,5.5,6.5],"labelExpr":"'R0' + (datum.value - 0.5)","title":null}},"y":{"field":"rate","type":"quantitative","scale":{"domain":[0,100]},"axis":{"values":[0,20,40,60,80,100],"title":"%","gridColor":{"condition":{"test":"datum.value==0||datum.value==100","value":"transparent"},"value":"#444444"}}}}},
{"data":{"name":"rates"},"transform":[{"filter":"false"}],"mark":{"type":"point","filled":true,"opacity":1},"encoding":{"x":{"field":"year","type":"quantitative","scale":{"domain":[1.5,6.5]},"axis":{"values":[2.5,3.5,4.5,5.5,6.5],"labelExpr":"'R0' + (datum.value - 0.5)","title":null}},"y":{"field":"rate","type":"quantitative","scale":{"domain":[0,100]},"axis":{"values":[0,20,40,60,80,100],"title":"%","gridColor":{"condition":{"test":"datum.value==0||datum.value==100","value":"transparent"},"value":"#444444"}}},"fill":{"field":"area","type":"nominal","scale":{"domain":["山江村","熊本県"],"range":["#000000","#505050"]},"legend":{"title":null,"orient":"none","legendX":41,"legendY":9}},"stroke":{"field":"area","type":"nominal","scale":{"domain":["山江村","熊本県"],"range":["#000000","#505050"]},"legend":{"title":null,"orient":"none","legendX":41,"legendY":9}},"shape":{"field":"area","type":"nominal","scale":{"domain":["山江村","熊本県"],"range":["M-2.5,0H2.5M-0.6,-0.6H0.6V0.6H-0.6Z","M-2.5,0H2.5M0,-0.6L0.6,0L0,0.6L-0.6,0Z"]},"legend":{"title":null,"orient":"none","legendX":41,"legendY":9}}}}
]},
{"width":313,"height":168,"layer":[
{"data":{"values":[{"label":"むし歯有病者率（球磨村）"}]},"mark":{"type":"rect","filled":false,"stroke":"#333333","strokeWidth":1},"encoding":{"x":{"datum":0.75,"type":"quantitative","scale":{"domain":[1.5,6.5]},"axis":{"values":[2.5,3.5,4.5,5.5,6.5],"labelExpr":"'R0' + (datum.value - 0.5)","title":null}},"x2":{"datum":6.66},"y":{"datum":-18.5,"type":"quantitative","scale":{"domain":[0,100]},"axis":{"values":[0,20,40,60,80,100],"title":"%","gridColor":{"condition":{"test":"datum.value==0||datum.value==100","value":"transparent"},"value":"#444444"}}},"y2":{"datum":121}}},
{"data":{"values":[{"label":"むし歯有病者率（球磨村）"}]},"mark":{"type":"text","font":"Noto Sans CJK JP","fontSize":13.5,"color":"#000000","baseline":"middle"},"encoding":{"x":{"datum":4.3,"type":"quantitative","scale":{"domain":[1.5,6.5]},"axis":{"values":[2.5,3.5,4.5,5.5,6.5],"labelExpr":"'R0' + (datum.value - 0.5)","title":null}},"y":{"datum":109,"type":"quantitative","scale":{"domain":[0,100]},"axis":{"values":[0,20,40,60,80,100],"title":"%","gridColor":{"condition":{"test":"datum.value==0||datum.value==100","value":"transparent"},"value":"#444444"}}},"text":{"field":"label"}}},
{"data":{"name":"rates"},"transform":[{"filter":"datum.area=='球磨村'"}],"mark":{"type":"line","color":"#000000","strokeWidth":1.6},"encoding":{"x":{"field":"year","type":"quantitative","scale":{"domain":[1.5,6.5]},"axis":{"values":[2.5,3.5,4.5,5.5,6.5],"labelExpr":"'R0' + (datum.value - 0.5)","title":null}},"y":{"field":"rate","type":"quantitative","scale":{"domain":[0,100]},"axis":{"values":[0,20,40,60,80,100],"title":"%","gridColor":{"condition":{"test":"datum.value==0||datum.value==100","value":"transparent"},"value":"#444444"}}}}},
{"data":{"name":"rates"},"transform":[{"filter":"datum.area=='熊本県'"}],"mark":{"type":"line","color":"#505050","strokeWidth":1.6},"encoding":{"x":{"field":"year","type":"quantitative","scale":{"domain":[1.5,6.5]},"axis":{"values":[2.5,3.5,4.5,5.5,6.5],"labelExpr":"'R0' + (datum.value - 0.5)","title":null}},"y":{"field":"rate","type":"quantitative","scale":{"domain":[0,100]},"axis":{"values":[0,20,40,60,80,100],"title":"%","gridColor":{"condition":{"test":"datum.value==0||datum.value==100","value":"transparent"},"value":"#444444"}}}}},
{"data":{"name":"rates"},"transform":[{"filter":"datum.area=='球磨村'"}],"mark":{"type":"point","filled":true,"opacity":1,"size":100,"shape":"square","color":"#000000"},"encoding":{"x":{"field":"year","type":"quantitative","scale":{"domain":[1.5,6.5]},"axis":{"values":[2.5,3.5,4.5,5.5,6.5],"labelExpr":"'R0' + (datum.value - 0.5)","title":null}},"y":{"field":"rate","type":"quantitative","scale":{"domain":[0,100]},"axis":{"values":[0,20,40,60,80,100],"title":"%","gridColor":{"condition":{"test":"datum.value==0||datum.value==100","value":"transparent"},"value":"#444444"}}}}},
{"data":{"name":"rates"},"transform":[{"filter":"datum.area=='熊本県'"}],"mark":{"type":"point","filled":true,"opacity":1,"size":100,"shape":"M0,-0.85L0.85,0L0,0.85L-0.85,0Z","color":"#505050"},"encoding":{"x":{"field":"year","type":"quantitative","scale":{"domain":[1.5,6.5]},"axis":{"values":[2.5,3.5,4.5,5.5,6.5],"labelExpr":"'R0' + (datum.value - 0.5)","title":null}},"y":{"field":"rate","type":"quantitative","scale":{"domain":[0,100]},"axis":{"values":[0,20,40,60,80,100],"title":"%","gridColor":{"condition":{"test":"datum.value==0||datum.value==100","value":"transparent"},"value":"#444444"}}}}},
{"data":{"name":"rates"},"transform":[{"filter":"false"}],"mark":{"type":"point","filled":true,"opacity":1},"encoding":{"x":{"field":"year","type":"quantitative","scale":{"domain":[1.5,6.5]},"axis":{"values":[2.5,3.5,4.5,5.5,6.5],"labelExpr":"'R0' + (datum.value - 0.5)","title":null}},"y":{"field":"rate","type":"quantitative","scale":{"domain":[0,100]},"axis":{"values":[0,20,40,60,80,100],"title":"%","gridColor":{"condition":{"test":"datum.value==0||datum.value==100","value":"transparent"},"value":"#444444"}}},"fill":{"field":"area","type":"nominal","scale":{"domain":["球磨村","熊本県"],"range":["#000000","#505050"]},"legend":{"title":null,"orient":"none","legendX":227,"legendY":9}},"stroke":{"field":"area","type":"nominal","scale":{"domain":["球磨村","熊本県"],"range":["#000000","#505050"]},"legend":{"title":null,"orient":"none","legendX":227,"legendY":9}},"shape":{"field":"area","type":"nominal","scale":{"domain":["球磨村","熊本県"],"range":["M-2.5,0H2.5M-0.6,-0.6H0.6V0.6H-0.6Z","M-2.5,0H2.5M0,-0.6L0.6,0L0,0.6L-0.6,0Z"]},"legend":{"title":null,"orient":"none","legendX":227,"legendY":9}}}}
]},
{"width":313,"height":168,"layer":[
{"data":{"values":[{"label":"むし歯有病者率（あさぎり町）"}]},"mark":{"type":"rect","filled":false,"stroke":"#333333","strokeWidth":1},"encoding":{"x":{"datum":0.75,"type":"quantitative","scale":{"domain":[1.5,6.5]},"axis":{"values":[2.5,3.5,4.5,5.5,6.5],"labelExpr":"'R0' + (datum.value - 0.5)","title":null}},"x2":{"datum":6.66},"y":{"datum":-18.5,"type":"quantitative","scale":{"domain":[0,100]},"axis":{"values":[0,20,40,60,80,100],"title":"%","gridColor":{"condition":{"test":"datum.value==0||datum.value==100","value":"transparent"},"value":"#444444"}}},"y2":{"datum":121}}},
{"data":{"values":[{"label":"むし歯有病者率（あさぎり町）"}]},"mark":{"type":"text","font":"Noto Sans CJK JP","fontSize":13.5,"color":"#000000","baseline":"middle"},"encoding":{"x":{"datum":4.3,"type":"quantitative","scale":{"domain":[1.5,6.5]},"axis":{"values":[2.5,3.5,4.5,5.5,6.5],"labelExpr":"'R0' + (datum.value - 0.5)","title":null}},"y":{"datum":109,"type":"quantitative","scale":{"domain":[0,100]},"axis":{"values":[0,20,40,60,80,100],"title":"%","gridColor":{"condition":{"test":"datum.value==0||datum.value==100","value":"transparent"},"value":"#444444"}}},"text":{"field":"label"}}},
{"data":{"name":"rates"},"transform":[{"filter":"datum.area=='あさぎり町'"}],"mark":{"type":"line","color":"#000000","strokeWidth":1.6},"encoding":{"x":{"field":"year","type":"quantitative","scale":{"domain":[1.5,6.5]},"axis":{"values":[2.5,3.5,4.5,5.5,6.5],"labelExpr":"'R0' + (datum.value - 0.5)","title":null}},"y":{"field":"rate","type":"quantitative","scale":{"domain":[0,100]},"axis":{"values":[0,20,40,60,80,100],"title":"%","gridColor":{"condition":{"test":"datum.value==0||datum.value==100","value":"transparent"},"value":"#444444"}}}}},
{"data":{"name":"rates"},"transform":[{"filter":"datum.area=='熊本県'"}],"mark":{"type":"line","color":"#505050","strokeWidth":1.6},"encoding":{"x":{"field":"year","type":"quantitative","scale":{"domain":[1.5,6.5]},"axis":{"values":[2.5,3.5,4.5,5.5,6.5],"labelExpr":"'R0' + (datum.value - 0.5)","title":null}},"y":{"field":"rate","type":"quantitative","scale":{"domain":[0,100]},"axis":{"values":[0,20,40,60,80,100],"title":"%","gridColor":{"condition":{"test":"datum.value==0||datum.value==100","value":"transparent"},"value":"#444444"}}}}},
{"data":{"name":"rates"},"transform":[{"filter":"datum.area=='あさぎり町'"}],"mark":{"type":"point","filled":true,"opacity":1,"size":100,"shape":"square","color":"#000000"},"encoding":{"x":{"field":"year","type":"quantitative","scale":{"domain":[1.5,6.5]},"axis":{"values":[2.5,3.5,4.5,5.5,6.5],"labelExpr":"'R0' + (datum.value - 0.5)","title":null}},"y":{"field":"rate","type":"quantitative","scale":{"domain":[0,100]},"axis":{"values":[0,20,40,60,80,100],"title":"%","gridColor":{"condition":{"test":"datum.value==0||datum.value==100","value":"transparent"},"value":"#444444"}}}}},
{"data":{"name":"rates"},"transform":[{"filter":"datum.area=='熊本県'"}],"mark":{"type":"point","filled":true,"opacity":1,"size":100,"shape":"M0,-0.85L0.85,0L0,0.85L-0.85,0Z","color":"#505050"},"encoding":{"x":{"field":"year","type":"quantitative","scale":{"domain":[1.5,6.5]},"axis":{"values":[2.5,3.5,4.5,5.5,6.5],"labelExpr":"'R0' + (datum.value - 0.5)","title":null}},"y":{"field":"rate","type":"quantitative","scale":{"domain":[0,100]},"axis":{"values":[0,20,40,60,80,100],"title":"%","gridColor":{"condition":{"test":"datum.value==0||datum.value==100","value":"transparent"},"value":"#444444"}}}}},
{"data":{"name":"rates"},"transform":[{"filter":"false"}],"mark":{"type":"point","filled":true,"opacity":1},"encoding":{"x":{"field":"year","type":"quantitative","scale":{"domain":[1.5,6.5]},"axis":{"values":[2.5,3.5,4.5,5.5,6.5],"labelExpr":"'R0' + (datum.value - 0.5)","title":null}},"y":{"field":"rate","type":"quantitative","scale":{"domain":[0,100]},"axis":{"values":[0,20,40,60,80,100],"title":"%","gridColor":{"condition":{"test":"datum.value==0||datum.value==100","value":"transparent"},"value":"#444444"}}},"fill":{"field":"area","type":"nominal","scale":{"domain":["あさぎり町","熊本県"],"range":["#000000","#505050"]},"legend":{"title":null,"orient":"none","legendX":199,"legendY":9}},"stroke":{"field":"area","type":"nominal","scale":{"domain":["あさぎり町","熊本県"],"range":["#000000","#505050"]},"legend":{"title":null,"orient":"none","legendX":199,"legendY":9}},"shape":{"field":"area","type":"nominal","scale":{"domain":["あさぎり町","熊本県"],"range":["M-2.5,0H2.5M-0.6,-0.6H0.6V0.6H-0.6Z","M-2.5,0H2.5M0,-0.6L0.6,0L0,0.6L-0.6,0Z"]},"legend":{"title":null,"orient":"none","legendX":199,"legendY":9}}}}
]},
{"width":313,"height":168,"layer":[
{"data":{"values":[{"label":"むし歯有病者率（天草市）"}]},"mark":{"type":"rect","filled":false,"stroke":"#333333","strokeWidth":1},"encoding":{"x":{"datum":0.75,"type":"quantitative","scale":{"domain":[1.5,6.5]},"axis":{"values":[2.5,3.5,4.5,5.5,6.5],"labelExpr":"'R0' + (datum.value - 0.5)","title":null}},"x2":{"datum":6.66},"y":{"datum":-18.5,"type":"quantitative","scale":{"domain":[0,100]},"axis":{"values":[0,20,40,60,80,100],"title":"%","gridColor":{"condition":{"test":"datum.value==0||datum.value==100","value":"transparent"},"value":"#444444"}}},"y2":{"datum":121}}},
{"data":{"values":[{"label":"むし歯有病者率（天草市）"}]},"mark":{"type":"text","font":"Noto Sans CJK JP","fontSize":13.5,"color":"#000000","baseline":"middle"},"encoding":{"x":{"datum":4.3,"type":"quantitative","scale":{"domain":[1.5,6.5]},"axis":{"values":[2.5,3.5,4.5,5.5,6.5],"labelExpr":"'R0' + (datum.value - 0.5)","title":null}},"y":{"datum":109,"type":"quantitative","scale":{"domain":[0,100]},"axis":{"values":[0,20,40,60,80,100],"title":"%","gridColor":{"condition":{"test":"datum.value==0||datum.value==100","value":"transparent"},"value":"#444444"}}},"text":{"field":"label"}}},
{"data":{"name":"rates"},"transform":[{"filter":"datum.area=='天草市'"}],"mark":{"type":"line","color":"#000000","strokeWidth":1.6},"encoding":{"x":{"field":"year","type":"quantitative","scale":{"domain":[1.5,6.5]},"axis":{"values":[2.5,3.5,4.5,5.5,6.5],"labelExpr":"'R0' + (datum.value - 0.5)","title":null}},"y":{"field":"rate","type":"quantitative","scale":{"domain":[0,100]},"axis":{"values":[0,20,40,60,80,100],"title":"%","gridColor":{"condition":{"test":"datum.value==0||datum.value==100","value":"transparent"},"value":"#444444"}}}}},
{"data":{"name":"rates"},"transform":[{"filter":"datum.area=='熊本県'"}],"mark":{"type":"line","color":"#505050","strokeWidth":1.6},"encoding":{"x":{"field":"year","type":"quantitative","scale":{"domain":[1.5,6.5]},"axis":{"values":[2.5,3.5,4.5,5.5,6.5],"labelExpr":"'R0' + (datum.value - 0.5)","title":null}},"y":{"field":"rate","type":"quantitative","scale":{"domain":[0,100]},"axis":{"values":[0,20,40,60,80,100],"title":"%","gridColor":{"condition":{"test":"datum.value==0||datum.value==100","value":"transparent"},"value":"#444444"}}}}},
{"data":{"name":"rates"},"transform":[{"filter":"datum.area=='天草市'"}],"mark":{"type":"point","filled":true,"opacity":1,"size":100,"shape":"square","color":"#000000"},"encoding":{"x":{"field":"year","type":"quantitative","scale":{"domain":[1.5,6.5]},"axis":{"values":[2.5,3.5,4.5,5.5,6.5],"labelExpr":"'R0' + (datum.value - 0.5)","title":null}},"y":{"field":"rate","type":"quantitative","scale":{"domain":[0,100]},"axis":{"values":[0,20,40,60,80,100],"title":"%","gridColor":{"condition":{"test":"datum.value==0||datum.value==100","value":"transparent"},"value":"#444444"}}}}},
{"data":{"name":"rates"},"transform":[{"filter":"datum.area=='熊本県'"}],"mark":{"type":"point","filled":true,"opacity":1,"size":100,"shape":"M0,-0.85L0.85,0L0,0.85L-0.85,0Z","color":"#505050"},"encoding":{"x":{"field":"year","type":"quantitative","scale":{"domain":[1.5,6.5]},"axis":{"values":[2.5,3.5,4.5,5.5,6.5],"labelExpr":"'R0' + (datum.value - 0.5)","title":null}},"y":{"field":"rate","type":"quantitative","scale":{"domain":[0,100]},"axis":{"values":[0,20,40,60,80,100],"title":"%","gridColor":{"condition":{"test":"datum.value==0||datum.value==100","value":"transparent"},"value":"#444444"}}}}},
{"data":{"name":"rates"},"transform":[{"filter":"false"}],"mark":{"type":"point","filled":true,"opacity":1},"encoding":{"x":{"field":"year","type":"quantitative","scale":{"domain":[1.5,6.5]},"axis":{"values":[2.5,3.5,4.5,5.5,6.5],"labelExpr":"'R0' + (datum.value - 0.5)","title":null}},"y":{"field":"rate","type":"quantitative","scale":{"domain":[0,100]},"axis":{"values":[0,20,40,60,80,100],"title":"%","gridColor":{"condition":{"test":"datum.value==0||datum.value==100","value":"transparent"},"value":"#444444"}}},"fill":{"field":"area","type":"nominal","scale":{"domain":["天草市","熊本県"],"range":["#000000","#505050"]},"legend":{"title":null,"orient":"none","legendX":224,"legendY":9}},"stroke":{"field":"area","type":"nominal","scale":{"domain":["天草市","熊本県"],"range":["#000000","#505050"]},"legend":{"title":null,"orient":"none","legendX":224,"legendY":9}},"shape":{"field":"area","type":"nominal","scale":{"domain":["天草市","熊本県"],"range":["M-2.5,0H2.5M-0.6,-0.6H0.6V0.6H-0.6Z","M-2.5,0H2.5M0,-0.6L0.6,0L0,0.6L-0.6,0Z"]},"legend":{"title":null,"orient":"none","legendX":224,"legendY":9}}}}
]},
{"width":313,"height":168,"layer":[
{"data":{"values":[{"label":"むし歯有病者率（上天草市）"}]},"mark":{"type":"rect","filled":false,"stroke":"#333333","strokeWidth":1},"encoding":{"x":{"datum":0.75,"type":"quantitative","scale":{"domain":[1.5,6.5]},"axis":{"values":[2.5,3.5,4.5,5.5,6.5],"labelExpr":"'R0' + (datum.value - 0.5)","title":null}},"x2":{"datum":6.66},"y":{"datum":-18.5,"type":"quantitative","scale":{"domain":[0,100]},"axis":{"values":[0,20,40,60,80,100],"title":"%","gridColor":{"condition":{"test":"datum.value==0||datum.value==100","value":"transparent"},"value":"#444444"}}},"y2":{"datum":121}}},
{"data":{"values":[{"label":"むし歯有病者率（上天草市）"}]},"mark":{"type":"text","font":"Noto Sans CJK JP","fontSize":13.5,"color":"#000000","baseline":"middle"},"encoding":{"x":{"datum":4.3,"type":"quantitative","scale":{"domain":[1.5,6.5]},"axis":{"values":[2.5,3.5,4.5,5.5,6.5],"labelExpr":"'R0' + (datum.value - 0.5)","title":null}},"y":{"datum":109,"type":"quantitative","scale":{"domain":[0,100]},"axis":{"values":[0,20,40,60,80,100],"title":"%","gridColor":{"condition":{"test":"datum.value==0||datum.value==100","value":"transparent"},"value":"#444444"}}},"text":{"field":"label"}}},
{"data":{"name":"rates"},"transform":[{"filter":"datum.area=='上天草市'"}],"mark":{"type":"line","color":"#000000","strokeWidth":1.6},"encoding":{"x":{"field":"year","type":"quantitative","scale":{"domain":[1.5,6.5]},"axis":{"values":[2.5,3.5,4.5,5.5,6.5],"labelExpr":"'R0' + (datum.value - 0.5)","title":null}},"y":{"field":"rate","type":"quantitative","scale":{"domain":[0,100]},"axis":{"values":[0,20,40,60,80,100],"title":"%","gridColor":{"condition":{"test":"datum.value==0||datum.value==100","value":"transparent"},"value":"#444444"}}}}},
{"data":{"name":"rates"},"transform":[{"filter":"datum.area=='熊本県'"}],"mark":{"type":"line","color":"#505050","strokeWidth":1.6},"encoding":{"x":{"field":"year","type":"quantitative","scale":{"domain":[1.5,6.5]},"axis":{"values":[2.5,3.5,4.5,5.5,6.5],"labelExpr":"'R0' + (datum.value - 0.5)","title":null}},"y":{"field":"rate","type":"quantitative","scale":{"domain":[0,100]},"axis":{"values":[0,20,40,60,80,100],"title":"%","gridColor":{"condition":{"test":"datum.value==0||datum.value==100","value":"transparent"},"value":"#444444"}}}}},
{"data":{"name":"rates"},"transform":[{"filter":"datum.area=='上天草市'"}],"mark":{"type":"point","filled":true,"opacity":1,"size":100,"shape":"square","color":"#000000"},"encoding":{"x":{"field":"year","type":"quantitative","scale":{"domain":[1.5,6.5]},"axis":{"values":[2.5,3.5,4.5,5.5,6.5],"labelExpr":"'R0' + (datum.value - 0.5)","title":null}},"y":{"field":"rate","type":"quantitative","scale":{"domain":[0,100]},"axis":{"values":[0,20,40,60,80,100],"title":"%","gridColor":{"condition":{"test":"datum.value==0||datum.value==100","value":"transparent"},"value":"#444444"}}}}},
{"data":{"name":"rates"},"transform":[{"filter":"datum.area=='熊本県'"}],"mark":{"type":"point","filled":true,"opacity":1,"size":100,"shape":"M0,-0.85L0.85,0L0,0.85L-0.85,0Z","color":"#505050"},"encoding":{"x":{"field":"year","type":"quantitative","scale":{"domain":[1.5,6.5]},"axis":{"values":[2.5,3.5,4.5,5.5,6.5],"labelExpr":"'R0' + (datum.value - 0.5)","title":null}},"y":{"field":"rate","type":"quantitative","scale":{"domain":[0,100]},"axis":{"values":[0,20,40,60,80,100],"title":"%","gridColor":{"condition":{"test":"datum.value==0||datum.value==100","value":"transparent"},"value":"#444444"}}}}},
{"data":{"name":"rates"},"transform":[{"filter":"false"}],"mark":{"type":"point","filled":true,"opacity":1},"encoding":{"x":{"field":"year","type":"quantitative","scale":{"domain":[1.5,6.5]},"axis":{"values":[2.5,3.5,4.5,5.5,6.5],"labelExpr":"'R0' + (datum.value - 0.5)","title":null}},"y":{"field":"rate","type":"quantitative","scale":{"domain":[0,100]},"axis":{"values":[0,20,40,60,80,100],"title":"%","gridColor":{"condition":{"test":"datum.value==0||datum.value==100","value":"transparent"},"value":"#444444"}}},"fill":{"field":"area","type":"nominal","scale":{"domain":["上天草市","熊本県"],"range":["#000000","#505050"]},"legend":{"title":null,"orient":"none","legendX":215,"legendY":9}},"stroke":{"field":"area","type":"nominal","scale":{"domain":["上天草市","熊本県"],"range":["#000000","#505050"]},"legend":{"title":null,"orient":"none","legendX":215,"legendY":9}},"shape":{"field":"area","type":"nominal","scale":{"domain":["上天草市","熊本県"],"range":["M-2.5,0H2.5M-0.6,-0.6H0.6V0.6H-0.6Z","M-2.5,0H2.5M0,-0.6L0.6,0L0,0.6L-0.6,0Z"]},"legend":{"title":null,"orient":"none","legendX":215,"legendY":9}}}}
]},
{"width":313,"height":168,"layer":[
{"data":{"values":[{"label":"むし歯有病者率（苓北町）"}]},"mark":{"type":"rect","filled":false,"stroke":"#333333","strokeWidth":1},"encoding":{"x":{"datum":0.75,"type":"quantitative","scale":{"domain":[1.5,6.5]},"axis":{"values":[2.5,3.5,4.5,5.5,6.5],"labelExpr":"'R0' + (datum.value - 0.5)","title":null}},"x2":{"datum":6.66},"y":{"datum":-18.5,"type":"quantitative","scale":{"domain":[0,100]},"axis":{"values":[0,20,40,60,80,100],"title":"%","gridColor":{"condition":{"test":"datum.value==0||datum.value==100","value":"transparent"},"value":"#444444"}}},"y2":{"datum":121}}},
{"data":{"values":[{"label":"むし歯有病者率（苓北町）"}]},"mark":{"type":"text","font":"Noto Sans CJK JP","fontSize":13.5,"color":"#000000","baseline":"middle"},"encoding":{"x":{"datum":4.3,"type":"quantitative","scale":{"domain":[1.5,6.5]},"axis":{"values":[2.5,3.5,4.5,5.5,6.5],"labelExpr":"'R0' + (datum.value - 0.5)","title":null}},"y":{"datum":109,"type":"quantitative","scale":{"domain":[0,100]},"axis":{"values":[0,20,40,60,80,100],"title":"%","gridColor":{"condition":{"test":"datum.value==0||datum.value==100","value":"transparent"},"value":"#444444"}}},"text":{"field":"label"}}},
{"data":{"name":"rates"},"transform":[{"filter":"datum.area=='苓北町'"}],"mark":{"type":"line","color":"#000000","strokeWidth":1.6},"encoding":{"x":{"field":"year","type":"quantitative","scale":{"domain":[1.5,6.5]},"axis":{"values":[2.5,3.5,4.5,5.5,6.5],"labelExpr":"'R0' + (datum.value - 0.5)","title":null}},"y":{"field":"rate","type":"quantitative","scale":{"domain":[0,100]},"axis":{"values":[0,20,40,60,80,100],"title":"%","gridColor":{"condition":{"test":"datum.value==0||datum.value==100","value":"transparent"},"value":"#444444"}}}}},
{"data":{"name":"rates"},"transform":[{"filter":"datum.area=='熊本県'"}],"mark":{"type":"line","color":"#505050","strokeWidth":1.6},"encoding":{"x":{"field":"year","type":"quantitative","scale":{"domain":[1.5,6.5]},"axis":{"values":[2.5,3.5,4.5,5.5,6.5],"labelExpr":"'R0' + (datum.value - 0.5)","title":null}},"y":{"field":"rate","type":"quantitative","scale":{"domain":[0,100]},"axis":{"values":[0,20,40,60,80,100],"title":"%","gridColor":{"condition":{"test":"datum.value==0||datum.value==100","value":"transparent"},"value":"#444444"}}}}},
{"data":{"name":"rates"},"transform":[{"filter":"datum.area=='苓北町'"}],"mark":{"type":"point","filled":true,"opacity":1,"size":100,"shape":"square","color":"#000000"},"encoding":{"x":{"field":"year","type":"quantitative","scale":{"domain":[1.5,6.5]},"axis":{"values":[2.5,3.5,4.5,5.5,6.5],"labelExpr":"'R0' + (datum.value - 0.5)","title":null}},"y":{"field":"rate","type":"quantitative","scale":{"domain":[0,100]},"axis":{"values":[0,20,40,60,80,100],"title":"%","gridColor":{"condition":{"test":"datum.value==0||datum.value==100","value":"transparent"},"value":"#444444"}}}}},
{"data":{"name":"rates"},"transform":[{"filter":"datum.area=='熊本県'"}],"mark":{"type":"point","filled":true,"opacity":1,"size":100,"shape":"M0,-0.85L0.85,0L0,0.85L-0.85,0Z","color":"#505050"},"encoding":{"x":{"field":"year","type":"quantitative","scale":{"domain":[1.5,6.5]},"axis":{"values":[2.5,3.5,4.5,5.5,6.5],"labelExpr":"'R0' + (datum.value - 0.5)","title":null}},"y":{"field":"rate","type":"quantitative","scale":{"domain":[0,100]},"axis":{"values":[0,20,40,60,80,100],"title":"%","gridColor":{"condition":{"test":"datum.value==0||datum.value==100","value":"transparent"},"value":"#444444"}}}}},
{"data":{"name":"rates"},"transform":[{"filter":"false"}],"mark":{"type":"point","filled":true,"opacity":1},"encoding":{"x":{"field":"year","type":"quantitative","scale":{"domain":[1.5,6.5]},"axis":{"values":[2.5,3.5,4.5,5.5,6.5],"labelExpr":"'R0' + (datum.value - 0.5)","title":null}},"y":{"field":"rate","type":"quantitative","scale":{"domain":[0,100]},"axis":{"values":[0,20,40,60,80,100],"title":"%","gridColor":{"condition":{"test":"datum.value==0||datum.value==100","value":"transparent"},"value":"#444444"}}},"fill":{"field":"area","type":"nominal","scale":{"domain":["苓北町","熊本県"],"range":["#000000","#505050"]},"legend":{"title":null,"orient":"none","legendX":227,"legendY":9}},"stroke":{"field":"area","type":"nominal","scale":{"domain":["苓北町","熊本県"],"range":["#000000","#505050"]},"legend":{"title":null,"orient":"none","legendX":227,"legendY":9}},"shape":{"field":"area","type":"nominal","scale":{"domain":["苓北町","熊本県"],"range":["M-2.5,0H2.5M-0.6,-0.6H0.6V0.6H-0.6Z","M-2.5,0H2.5M0,-0.6L0.6,0L0,0.6L-0.6,0Z"]},"legend":{"title":null,"orient":"none","legendX":227,"legendY":9}}}}
]},
{"width":313,"height":168,"layer":[
{"data":{"values":[{"label":"むし歯有病者率（熊本市）"}]},"mark":{"type":"rect","filled":false,"stroke":"#333333","strokeWidth":1},"encoding":{"x":{"datum":0.75,"type":"quantitative","scale":{"domain":[1.5,6.5]},"axis":{"values":[2.5,3.5,4.5,5.5,6.5],"labelExpr":"'R0' + (datum.value - 0.5)","title":null}},"x2":{"datum":6.66},"y":{"datum":-18.5,"type":"quantitative","scale":{"domain":[0,100]},"axis":{"values":[0,20,40,60,80,100],"title":"%","gridColor":{"condition":{"test":"datum.value==0||datum.value==100","value":"transparent"},"value":"#444444"}}},"y2":{"datum":121}}},
{"data":{"values":[{"label":"むし歯有病者率（熊本市）"}]},"mark":{"type":"text","font":"Noto Sans CJK JP","fontSize":13.5,"color":"#000000","baseline":"middle"},"encoding":{"x":{"datum":4.3,"type":"quantitative","scale":{"domain":[1.5,6.5]},"axis":{"values":[2.5,3.5,4.5,5.5,6.5],"labelExpr":"'R0' + (datum.value - 0.5)","title":null}},"y":{"datum":109,"type":"quantitative","scale":{"domain":[0,100]},"axis":{"values":[0,20,40,60,80,100],"title":"%","gridColor":{"condition":{"test":"datum.value==0||datum.value==100","value":"transparent"},"value":"#444444"}}},"text":{"field":"label"}}},
{"data":{"name":"rates"},"transform":[{"filter":"datum.area=='熊本市'"}],"mark":{"type":"line","color":"#000000","strokeWidth":1.6},"encoding":{"x":{"field":"year","type":"quantitative","scale":{"domain":[1.5,6.5]},"axis":{"values":[2.5,3.5,4.5,5.5,6.5],"labelExpr":"'R0' + (datum.value - 0.5)","title":null}},"y":{"field":"rate","type":"quantitative","scale":{"domain":[0,100]},"axis":{"values":[0,20,40,60,80,100],"title":"%","gridColor":{"condition":{"test":"datum.value==0||datum.value==100","value":"transparent"},"value":"#444444"}}}}},
{"data":{"name":"rates"},"transform":[{"filter":"datum.area=='熊本県'"}],"mark":{"type":"line","color":"#505050","strokeWidth":1.6},"encoding":{"x":{"field":"year","type":"quantitative","scale":{"domain":[1.5,6.5]},"axis":{"values":[2.5,3.5,4.5,5.5,6.5],"labelExpr":"'R0' + (datum.value - 0.5)","title":null}},"y":{"field":"rate","type":"quantitative","scale":{"domain":[0,100]},"axis":{"values":[0,20,40,60,80,100],"title":"%","gridColor":{"condition":{"test":"datum.value==0||datum.value==100","value":"transparent"},"value":"#444444"}}}}},
{"data":{"name":"rates"},"transform":[{"filter":"datum.area=='熊本市'"}],"mark":{"type":"point","filled":true,"opacity":1,"size":100,"shape":"square","color":"#000000"},"encoding":{"x":{"field":"year","type":"quantitative","scale":{"domain":[1.5,6.5]},"axis":{"values":[2.5,3.5,4.5,5.5,6.5],"labelExpr":"'R0' + (datum.value - 0.5)","title":null}},"y":{"field":"rate","type":"quantitative","scale":{"domain":[0,100]},"axis":{"values":[0,20,40,60,80,100],"title":"%","gridColor":{"condition":{"test":"datum.value==0||datum.value==100","value":"transparent"},"value":"#444444"}}}}},
{"data":{"name":"rates"},"transform":[{"filter":"datum.area=='熊本県'"}],"mark":{"type":"point","filled":true,"opacity":1,"size":100,"shape":"M0,-0.85L0.85,0L0,0.85L-0.85,0Z","color":"#505050"},"encoding":{"x":{"field":"year","type":"quantitative","scale":{"domain":[1.5,6.5]},"axis":{"values":[2.5,3.5,4.5,5.5,6.5],"labelExpr":"'R0' + (datum.value - 0.5)","title":null}},"y":{"field":"rate","type":"quantitative","scale":{"domain":[0,100]},"axis":{"values":[0,20,40,60,80,100],"title":"%","gridColor":{"condition":{"test":"datum.value==0||datum.value==100","value":"transparent"},"value":"#444444"}}}}},
{"data":{"name":"rates"},"transform":[{"filter":"false"}],"mark":{"type":"point","filled":true,"opacity":1},"encoding":{"x":{"field":"year","type":"quantitative","scale":{"domain":[1.5,6.5]},"axis":{"values":[2.5,3.5,4.5,5.5,6.5],"labelExpr":"'R0' + (datum.value - 0.5)","title":null}},"y":{"field":"rate","type":"quantitative","scale":{"domain":[0,100]},"axis":{"values":[0,20,40,60,80,100],"title":"%","gridColor":{"condition":{"test":"datum.value==0||datum.value==100","value":"transparent"},"value":"#444444"}}},"fill":{"field":"area","type":"nominal","scale":{"domain":["熊本市","熊本県"],"range":["#000000","#505050"]},"legend":{"title":null,"orient":"none","legendX":224,"legendY":9}},"stroke":{"field":"area","type":"nominal","scale":{"domain":["熊本市","熊本県"],"range":["#000000","#505050"]},"legend":{"title":null,"orient":"none","legendX":224,"legendY":9}},"shape":{"field":"area","type":"nominal","scale":{"domain":["熊本市","熊本県"],"range":["M-2.5,0H2.5M-0.6,-0.6H0.6V0.6H-0.6Z","M-2.5,0H2.5M0,-0.6L0.6,0L0,0.6L-0.6,0Z"]},"legend":{"title":null,"orient":"none","legendX":224,"legendY":9}}}}
]}
],
"config": {
  "view": {"stroke": "#000000", "strokeWidth": 2},
  "axis": {"labelFont": "Liberation Sans Narrow, Liberation Sans, Arial, sans-serif", "labelFontSize": 13, "labelColor": "#000000", "domainColor": "#000000", "domainWidth": 2, "tickColor": "#000000", "tickWidth": 1, "titleColor": "#000000", "titleFont": "Liberation Sans, sans-serif"},
  "axisX": {"grid": false, "tickSize": 5, "labelPadding": 4, "labelFlush": false, "labelOverlap": false, "labelOffset": -31.3},
  "axisY": {"grid": true, "ticks": false, "labelPadding": 20, "labelOverlap": false, "titleAngle": 0, "titleX": -11, "titleY": -1, "titleAlign": "left", "titleBaseline": "bottom", "titleFontSize": 11, "titleFontWeight": "normal"},
  "legend": {"padding": 4, "strokeColor": "#000000", "strokeWidth": 2, "fillColor": "#ffffff", "labelFont": "Noto Sans CJK JP", "labelFontSize": 12, "labelColor": "#000000", "symbolSize": 144, "symbolStrokeWidth": 1.5, "symbolOffset": 12, "labelOffset": 11, "rowPadding": 5, "zindex": 1}
}
}
